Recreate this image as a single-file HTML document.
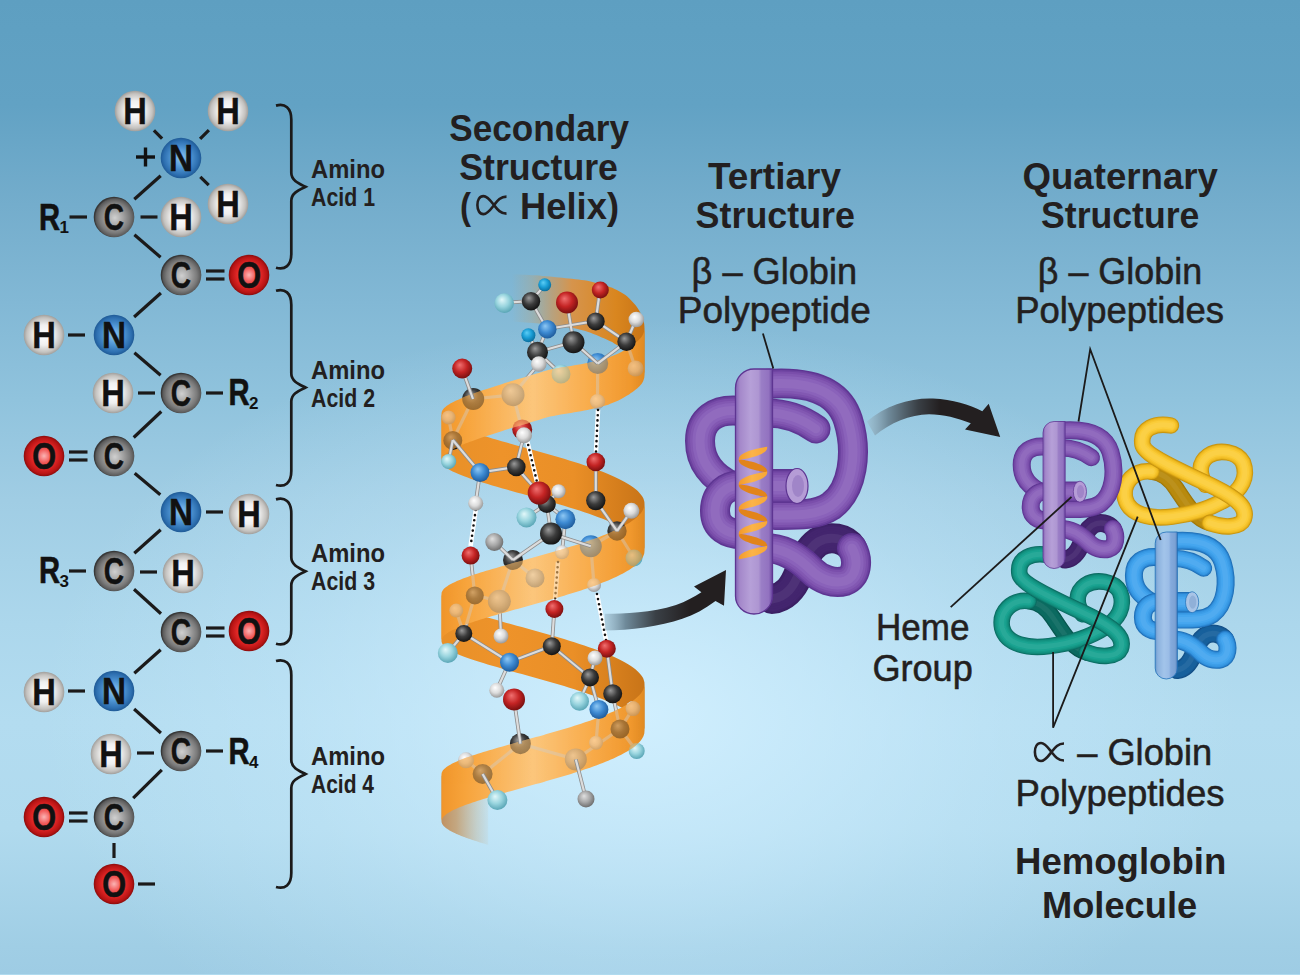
<!DOCTYPE html><html><head><meta charset="utf-8"><style>html,body{margin:0;padding:0;background:#a2cfe6;overflow:hidden}svg{display:block}</style></head><body><svg width="1300" height="975" viewBox="0 0 1300 975"><defs><linearGradient id="bg" x1="0" y1="0" x2="0" y2="975" gradientUnits="userSpaceOnUse">
<stop offset="0" stop-color="#5e9fc1"/>
<stop offset="0.03" stop-color="#5fa0c2"/>
<stop offset="0.108" stop-color="#62a2c4"/>
<stop offset="0.21" stop-color="#74adcc"/>
<stop offset="0.31" stop-color="#82b8d5"/>
<stop offset="0.41" stop-color="#90c3dd"/>
<stop offset="0.513" stop-color="#a0cde4"/>
<stop offset="0.64" stop-color="#acd7ec"/>
<stop offset="0.74" stop-color="#b3dcf0"/>
<stop offset="0.85" stop-color="#b0daee"/>
<stop offset="0.97" stop-color="#a0cee5"/>
<stop offset="1" stop-color="#9ecce4"/>
</linearGradient>
<radialGradient id="bgr" cx="640" cy="715" r="600" gradientUnits="userSpaceOnUse" gradientTransform="translate(640 715) scale(1 0.66) translate(-640 -715)">
<stop offset="0" stop-color="#d2f0ff" stop-opacity="0.95"/>
<stop offset="0.6" stop-color="#ceeeff" stop-opacity="0.3"/>
<stop offset="1" stop-color="#ceeeff" stop-opacity="0"/>
</radialGradient><radialGradient id="gC" cx="0.52" cy="0.52" r="0.5">
<stop offset="0" stop-color="#d0d0d0"/><stop offset="0.35" stop-color="#aaaaaa"/><stop offset="0.75" stop-color="#7a7a7a"/><stop offset="0.93" stop-color="#5a5a5a"/><stop offset="1" stop-color="#383838"/></radialGradient>
<radialGradient id="gH" cx="0.5" cy="0.5" r="0.5">
<stop offset="0" stop-color="#ffffff"/><stop offset="0.5" stop-color="#efefef"/><stop offset="0.85" stop-color="#c4c2bf"/><stop offset="1" stop-color="#a09e9b"/></radialGradient>
<radialGradient id="gN" cx="0.5" cy="0.5" r="0.5">
<stop offset="0" stop-color="#8fc6f0"/><stop offset="0.45" stop-color="#5298d6"/><stop offset="0.85" stop-color="#2d6fb0"/><stop offset="1" stop-color="#1f5a96"/></radialGradient>
<radialGradient id="gO" cx="0.5" cy="0.5" r="0.5">
<stop offset="0" stop-color="#fbb4b4"/><stop offset="0.3" stop-color="#f26060"/><stop offset="0.6" stop-color="#e02626"/><stop offset="0.88" stop-color="#b81414"/><stop offset="1" stop-color="#8a0c0c"/></radialGradient><radialGradient id="ball_C" cx="0.45" cy="0.42" r="0.58" fx="0.38" fy="0.32"><stop offset="0" stop-color="#9a9a9a"/><stop offset="0.55" stop-color="#3c3c3c"/><stop offset="1" stop-color="#141414"/></radialGradient><radialGradient id="ball_O" cx="0.45" cy="0.42" r="0.58" fx="0.38" fy="0.32"><stop offset="0" stop-color="#f07070"/><stop offset="0.55" stop-color="#c42424"/><stop offset="1" stop-color="#7a1010"/></radialGradient><radialGradient id="ball_N" cx="0.45" cy="0.42" r="0.58" fx="0.38" fy="0.32"><stop offset="0" stop-color="#8ec8f4"/><stop offset="0.55" stop-color="#3d8ad2"/><stop offset="1" stop-color="#1f5c9c"/></radialGradient><radialGradient id="ball_H" cx="0.45" cy="0.42" r="0.58" fx="0.38" fy="0.32"><stop offset="0" stop-color="#ffffff"/><stop offset="0.55" stop-color="#dcdcdc"/><stop offset="1" stop-color="#9a9a9a"/></radialGradient><radialGradient id="ball_cy" cx="0.45" cy="0.42" r="0.58" fx="0.38" fy="0.32"><stop offset="0" stop-color="#5ccdf5"/><stop offset="0.55" stop-color="#1a9ed6"/><stop offset="1" stop-color="#0b6f9e"/></radialGradient><radialGradient id="ball_lc" cx="0.45" cy="0.42" r="0.58" fx="0.38" fy="0.32"><stop offset="0" stop-color="#e2f8fa"/><stop offset="0.55" stop-color="#98d4de"/><stop offset="1" stop-color="#5aa6b6"/></radialGradient><radialGradient id="ball_g" cx="0.45" cy="0.42" r="0.58" fx="0.38" fy="0.32"><stop offset="0" stop-color="#e0e0e0"/><stop offset="0.55" stop-color="#a8a8a8"/><stop offset="1" stop-color="#6e6e6e"/></radialGradient><linearGradient id="ar1" x1="604" y1="0" x2="690" y2="0" gradientUnits="userSpaceOnUse">
<stop offset="0" stop-color="#9fbfd0" stop-opacity="0.6"/><stop offset="0.25" stop-color="#6f8a9a"/><stop offset="0.6" stop-color="#3a4046"/><stop offset="1" stop-color="#231f20"/></linearGradient>
<linearGradient id="ar2" x1="866" y1="0" x2="940" y2="0" gradientUnits="userSpaceOnUse">
<stop offset="0" stop-color="#9fbfd0" stop-opacity="0.6"/><stop offset="0.3" stop-color="#6f8a9a"/><stop offset="0.7" stop-color="#3a4046"/><stop offset="1" stop-color="#231f20"/></linearGradient><linearGradient id="hfront" x1="441" y1="0" x2="645" y2="0" gradientUnits="userSpaceOnUse">
<stop offset="0" stop-color="#f0952a"/><stop offset="0.12" stop-color="#f7a43c"/><stop offset="0.45" stop-color="#fcc67c"/><stop offset="0.75" stop-color="#f8aa48"/><stop offset="0.93" stop-color="#f0982e"/><stop offset="1" stop-color="#e08a22"/></linearGradient>
<linearGradient id="hback" x1="441" y1="0" x2="645" y2="0" gradientUnits="userSpaceOnUse">
<stop offset="0" stop-color="#e89028"/><stop offset="0.3" stop-color="#ee932a"/><stop offset="0.65" stop-color="#ea8f27"/><stop offset="0.88" stop-color="#d47d1c"/><stop offset="1" stop-color="#c87418"/></linearGradient>
<linearGradient id="htop" x1="512" y1="0" x2="645" y2="0" gradientUnits="userSpaceOnUse">
<stop offset="0" stop-color="#c0a070" stop-opacity="0"/><stop offset="0.15" stop-color="#c0a070" stop-opacity="0.3"/><stop offset="0.3" stop-color="#c89a62" stop-opacity="0.75"/><stop offset="0.45" stop-color="#d6944c"/><stop offset="0.78" stop-color="#d9861f"/><stop offset="1" stop-color="#c87416"/></linearGradient>
<linearGradient id="hbot" x1="441" y1="0" x2="492" y2="0" gradientUnits="userSpaceOnUse">
<stop offset="0" stop-color="#c09060"/><stop offset="0.3" stop-color="#c49c6c" stop-opacity="0.85"/><stop offset="0.7" stop-color="#c8a87c" stop-opacity="0.35"/><stop offset="1" stop-color="#c8a87c" stop-opacity="0"/></linearGradient><clipPath id="fclip"><path d="M644.5 328.4 L644.4 329.6 L644.3 330.8 L643.9 332.1 L643.5 333.3 L643 334.5 L642.3 335.7 L641.5 336.9 L640.6 338 L639.5 339.2 L638.4 340.3 L637.1 341.4 L635.7 342.6 L634.2 343.7 L632.6 344.9 L630.9 346.1 L629.1 347.4 L627.1 348.6 L625.1 349.8 L623 351.1 L620.8 352.3 L618.4 353.4 L616 354.5 L613.5 355.6 L610.9 356.6 L608.2 357.7 L605.5 358.5 L602.7 359.3 L599.8 360 L596.8 360.8 L593.8 361.5 L590.7 362.3 L587.5 363 L584.3 363.6 L581 364.2 L577.7 364.8 L574.4 365.3 L571 365.9 L567.6 366.4 L564.1 367 L560.6 367.6 L557.1 368.3 L553.6 369 L550.1 369.6 L546.5 370.5 L543 371.6 L539.5 372.7 L535.9 373.8 L532.4 374.8 L528.9 375.9 L525.4 376.9 L521.9 378 L518.4 379 L515 380 L511.6 381.1 L508.3 382.1 L505 383.1 L501.7 384.2 L498.5 385.2 L495.3 386.2 L492.3 387.2 L489.2 388.2 L486.2 389.2 L483.3 390.1 L480.5 391.1 L477.8 392 L475.1 392.9 L472.5 393.9 L470 394.8 L467.6 395.7 L465.2 396.6 L463 397.5 L460.9 398.5 L458.9 399.4 L456.9 400.2 L455.1 401.1 L453.4 401.9 L451.8 402.8 L450.3 403.6 L448.9 404.5 L447.6 405.3 L446.5 406.1 L445.4 407 L444.5 407.8 L443.7 408.6 L443 409.5 L442.5 410.3 L442.1 411.1 L441.7 411.9 L441.6 412.8 L441.5 413.6 L441.5 460.6 L441.6 459.8 L441.7 458.9 L442.1 458.1 L442.5 457.3 L443 456.5 L443.7 455.6 L444.5 454.8 L445.4 454 L446.5 453.1 L447.6 452.3 L448.9 451.5 L450.3 450.6 L451.8 449.8 L453.4 448.9 L455.1 448.1 L456.9 447.2 L458.9 446.4 L460.9 445.5 L463 444.5 L465.2 443.6 L467.6 442.7 L470 441.8 L472.5 440.9 L475.1 439.9 L477.8 439 L480.5 438.1 L483.3 437.1 L486.2 436.2 L489.2 435.2 L492.3 434.2 L495.3 433.2 L498.5 432.2 L501.7 431.2 L505 430.1 L508.3 429.1 L511.6 428.1 L515 427 L518.4 426 L521.9 425 L525.4 423.9 L528.9 422.9 L532.4 421.8 L535.9 420.8 L539.5 419.7 L543 418.6 L546.5 417.5 L550.1 416.6 L553.6 416 L557.1 415.3 L560.6 414.6 L564.1 414 L567.6 413.4 L571 412.9 L574.4 412.3 L577.7 411.8 L581 411.2 L584.3 410.6 L587.5 410 L590.7 409.3 L593.8 408.5 L596.8 407.8 L599.8 407 L602.7 406.3 L605.5 405.5 L608.2 404.7 L610.9 403.6 L613.5 402.6 L616 401.5 L618.4 400.4 L620.8 399.3 L623 398.1 L625.1 396.8 L627.1 395.6 L629.1 394.4 L630.9 393.1 L632.6 391.9 L634.2 390.7 L635.7 389.6 L637.1 388.4 L638.4 387.3 L639.5 386.2 L640.6 385 L641.5 383.9 L642.3 382.7 L643 381.5 L643.5 380.3 L643.9 379.1 L644.3 377.8 L644.4 376.6 L644.5 375.4Z"/><path d="M644.5 503.7 L644.4 505 L644.3 506.2 L643.9 507.4 L643.5 508.6 L643 509.8 L642.3 511 L641.5 512.2 L640.6 513.4 L639.5 514.6 L638.4 515.8 L637.1 517 L635.7 518.2 L634.2 519.4 L632.6 520.6 L630.9 521.8 L629.1 523 L627.1 524.1 L625.1 525.3 L623 526.5 L620.8 527.6 L618.4 528.8 L616 530 L613.5 531.1 L610.9 532.2 L608.2 533.4 L605.5 534.5 L602.7 535.6 L599.8 536.8 L596.8 537.9 L593.8 539 L590.7 540.1 L587.5 541.2 L584.3 542.3 L581 543.4 L577.7 544.4 L574.4 545.5 L571 546.6 L567.6 547.6 L564.1 548.7 L560.6 549.7 L557.1 550.8 L553.6 551.8 L550.1 552.8 L546.5 553.8 L543 554.8 L539.5 555.8 L535.9 556.8 L532.4 557.8 L528.9 558.8 L525.4 559.7 L521.9 560.7 L518.4 561.7 L515 562.6 L511.6 563.6 L508.3 564.5 L505 565.4 L501.7 566.3 L498.5 567.2 L495.3 568.2 L492.3 569.1 L489.2 569.9 L486.2 570.8 L483.3 571.7 L480.5 572.6 L477.8 573.5 L475.1 574.3 L472.5 575.2 L470 576 L467.6 576.9 L465.2 577.7 L463 578.6 L460.9 579.4 L458.9 580.2 L456.9 581.1 L455.1 581.9 L453.4 582.7 L451.8 583.5 L450.3 584.3 L448.9 585.1 L447.6 585.9 L446.5 586.7 L445.4 587.5 L444.5 588.3 L443.7 589.1 L443 589.9 L442.5 590.7 L442.1 591.5 L441.7 592.3 L441.6 593.1 L441.5 593.9 L441.5 640.9 L441.6 640.1 L441.7 639.3 L442.1 638.5 L442.5 637.7 L443 636.9 L443.7 636.1 L444.5 635.3 L445.4 634.5 L446.5 633.7 L447.6 632.9 L448.9 632.1 L450.3 631.3 L451.8 630.5 L453.4 629.7 L455.1 628.9 L456.9 628.1 L458.9 627.2 L460.9 626.4 L463 625.6 L465.2 624.7 L467.6 623.9 L470 623 L472.5 622.2 L475.1 621.3 L477.8 620.5 L480.5 619.6 L483.3 618.7 L486.2 617.8 L489.2 616.9 L492.3 616.1 L495.3 615.2 L498.5 614.2 L501.7 613.3 L505 612.4 L508.3 611.5 L511.6 610.6 L515 609.6 L518.4 608.7 L521.9 607.7 L525.4 606.7 L528.9 605.8 L532.4 604.8 L535.9 603.8 L539.5 602.8 L543 601.8 L546.5 600.8 L550.1 599.8 L553.6 598.8 L557.1 597.8 L560.6 596.7 L564.1 595.7 L567.6 594.6 L571 593.6 L574.4 592.5 L577.7 591.4 L581 590.4 L584.3 589.3 L587.5 588.2 L590.7 587.1 L593.8 586 L596.8 584.9 L599.8 583.8 L602.7 582.6 L605.5 581.5 L608.2 580.4 L610.9 579.2 L613.5 578.1 L616 577 L618.4 575.8 L620.8 574.6 L623 573.5 L625.1 572.3 L627.1 571.1 L629.1 570 L630.9 568.8 L632.6 567.6 L634.2 566.4 L635.7 565.2 L637.1 564 L638.4 562.8 L639.5 561.6 L640.6 560.4 L641.5 559.2 L642.3 558 L643 556.8 L643.5 555.6 L643.9 554.4 L644.3 553.2 L644.4 552 L644.5 550.7Z"/><path d="M644.5 684.1 L644.4 685.3 L644.3 686.5 L643.9 687.7 L643.5 688.9 L643 690.1 L642.3 691.3 L641.5 692.5 L640.6 693.7 L639.5 694.9 L638.4 696.1 L637.1 697.3 L635.7 698.5 L634.2 699.7 L632.6 700.9 L630.9 702.1 L629.1 703.3 L627.1 704.5 L625.1 705.6 L623 706.8 L620.8 708 L618.4 709.1 L616 710.3 L613.5 711.4 L610.9 712.6 L608.2 713.7 L605.5 714.8 L602.7 716 L599.8 717.1 L596.8 718.2 L593.8 719.3 L590.7 720.4 L587.5 721.5 L584.3 722.6 L581 723.7 L577.7 724.8 L574.4 725.8 L571 726.9 L567.6 728 L564.1 729 L560.6 730.1 L557.1 731.1 L553.6 732.1 L550.1 733.1 L546.5 734.1 L543 735.2 L539.5 736.2 L535.9 737.1 L532.4 738.1 L528.9 739.1 L525.4 740.1 L521.9 741 L518.4 742 L515 742.9 L511.6 743.9 L508.3 744.8 L505 745.7 L501.7 746.7 L498.5 747.6 L495.3 748.5 L492.3 749.4 L489.2 750.3 L486.2 751.2 L483.3 752 L480.5 752.9 L477.8 753.8 L475.1 754.7 L472.5 755.5 L470 756.4 L467.6 757.2 L465.2 758.1 L463 758.9 L460.9 759.7 L458.9 760.6 L456.9 761.4 L455.1 762.2 L453.4 763 L451.8 763.8 L450.3 764.7 L448.9 765.5 L447.6 766.3 L446.5 767.1 L445.4 767.9 L444.5 768.7 L443.7 769.5 L443 770.3 L442.5 771.1 L442.1 771.9 L441.7 772.7 L441.6 773.4 L441.5 774.2 L441.5 821.2 L441.6 820.4 L441.7 819.7 L442.1 818.9 L442.5 818.1 L443 817.3 L443.7 816.5 L444.5 815.7 L445.4 814.9 L446.5 814.1 L447.6 813.3 L448.9 812.5 L450.3 811.7 L451.8 810.8 L453.4 810 L455.1 809.2 L456.9 808.4 L458.9 807.6 L460.9 806.7 L463 805.9 L465.2 805.1 L467.6 804.2 L470 803.4 L472.5 802.5 L475.1 801.7 L477.8 800.8 L480.5 799.9 L483.3 799 L486.2 798.2 L489.2 797.3 L492.3 796.4 L495.3 795.5 L498.5 794.6 L501.7 793.7 L505 792.7 L508.3 791.8 L511.6 790.9 L515 789.9 L518.4 789 L521.9 788 L525.4 787.1 L528.9 786.1 L532.4 785.1 L535.9 784.1 L539.5 783.2 L543 782.2 L546.5 781.1 L550.1 780.1 L553.6 779.1 L557.1 778.1 L560.6 777.1 L564.1 776 L567.6 775 L571 773.9 L574.4 772.8 L577.7 771.8 L581 770.7 L584.3 769.6 L587.5 768.5 L590.7 767.4 L593.8 766.3 L596.8 765.2 L599.8 764.1 L602.7 763 L605.5 761.8 L608.2 760.7 L610.9 759.6 L613.5 758.4 L616 757.3 L618.4 756.1 L620.8 755 L623 753.8 L625.1 752.6 L627.1 751.5 L629.1 750.3 L630.9 749.1 L632.6 747.9 L634.2 746.7 L635.7 745.5 L637.1 744.3 L638.4 743.1 L639.5 741.9 L640.6 740.7 L641.5 739.5 L642.3 738.3 L643 737.1 L643.5 735.9 L643.9 734.7 L644.3 733.5 L644.4 732.3 L644.5 731.1Z"/></clipPath><linearGradient id="cylP" x1="0" y1="0" x2="1" y2="0"><stop offset="0" stop-color="#8262b4"/><stop offset="0.12" stop-color="#a488ca"/><stop offset="0.4" stop-color="#b6a0d8"/><stop offset="0.62" stop-color="#ae96d2"/><stop offset="0.7" stop-color="#9a7ec6"/><stop offset="0.9" stop-color="#9272c0"/><stop offset="1" stop-color="#6a46a0"/></linearGradient><linearGradient id="cylB" x1="0" y1="0" x2="1" y2="0"><stop offset="0" stop-color="#6a98cc"/><stop offset="0.12" stop-color="#8cb2de"/><stop offset="0.4" stop-color="#a2c4ea"/><stop offset="0.62" stop-color="#9abce6"/><stop offset="0.7" stop-color="#84aadc"/><stop offset="0.9" stop-color="#7ca2d4"/><stop offset="1" stop-color="#4a7cb8"/></linearGradient><linearGradient id="mhg" x1="739" y1="0" x2="768" y2="0" gradientUnits="userSpaceOnUse"><stop offset="0" stop-color="#f39a2c"/><stop offset="0.45" stop-color="#fbb449"/><stop offset="1" stop-color="#f7a535"/></linearGradient></defs><rect width="1300" height="975" fill="url(#bg)"/><rect width="1300" height="975" fill="url(#bgr)"/><g stroke="#1b1a1a" stroke-width="3.2" stroke-linecap="butt"><line x1="153.9" y1="130.3" x2="162.1" y2="138.7"/><line x1="208.9" y1="130.1" x2="200.1" y2="138.9"/><line x1="200.3" y1="176.9" x2="208.7" y2="185.1"/><line x1="160.7" y1="175.8" x2="134.3" y2="199.2"/><line x1="134.4" y1="234.7" x2="160.6" y2="257.3"/><line x1="160.9" y1="293" x2="134.1" y2="317"/><line x1="134.4" y1="352.7" x2="160.6" y2="375.3"/><line x1="161.3" y1="411.5" x2="133.7" y2="437.5"/><line x1="134.7" y1="473.3" x2="160.3" y2="494.7"/><line x1="160.7" y1="529.8" x2="134.3" y2="553.2"/><line x1="134" y1="589.2" x2="161" y2="613.8"/><line x1="160.7" y1="649.8" x2="134.3" y2="673.2"/><line x1="134.1" y1="709" x2="160.9" y2="733"/><line x1="161.8" y1="769.9" x2="133.2" y2="798.1"/><line x1="69.5" y1="217" x2="87" y2="217"/><line x1="140.5" y1="217" x2="157.5" y2="217"/><line x1="68" y1="335" x2="85" y2="335"/><line x1="138" y1="393" x2="155" y2="393"/><line x1="206" y1="393" x2="223" y2="393"/><line x1="206" y1="512" x2="223" y2="512"/><line x1="69" y1="571" x2="86" y2="571"/><line x1="140" y1="572" x2="157" y2="572"/><line x1="68" y1="691" x2="85" y2="691"/><line x1="137" y1="753" x2="154" y2="753"/><line x1="206" y1="751" x2="223" y2="751"/><line x1="138" y1="884" x2="155" y2="884"/><line x1="206" y1="271" x2="224.5" y2="271"/><line x1="206" y1="279" x2="224.5" y2="279"/><line x1="69" y1="452" x2="87.5" y2="452"/><line x1="69" y1="460" x2="87.5" y2="460"/><line x1="206" y1="628" x2="224.5" y2="628"/><line x1="206" y1="636" x2="224.5" y2="636"/><line x1="69" y1="813" x2="87.5" y2="813"/><line x1="69" y1="821" x2="87.5" y2="821"/><line x1="114" y1="843" x2="114" y2="858"/></g><circle cx="135" cy="111" r="20.3" fill="url(#gH)"/><circle cx="228" cy="111" r="20.3" fill="url(#gH)"/><circle cx="181" cy="158" r="20.3" fill="url(#gN)"/><circle cx="228" cy="204" r="20.3" fill="url(#gH)"/><circle cx="114" cy="217" r="20.3" fill="url(#gC)"/><circle cx="181" cy="217" r="20.3" fill="url(#gH)"/><circle cx="181" cy="275" r="20.3" fill="url(#gC)"/><circle cx="249" cy="275" r="20.3" fill="url(#gO)"/><circle cx="44" cy="335" r="20.3" fill="url(#gH)"/><circle cx="114" cy="335" r="20.3" fill="url(#gN)"/><circle cx="113" cy="393" r="20.3" fill="url(#gH)"/><circle cx="181" cy="393" r="20.3" fill="url(#gC)"/><circle cx="44" cy="456" r="20.3" fill="url(#gO)"/><circle cx="114" cy="456" r="20.3" fill="url(#gC)"/><circle cx="181" cy="512" r="20.3" fill="url(#gN)"/><circle cx="249" cy="514" r="20.3" fill="url(#gH)"/><circle cx="114" cy="571" r="20.3" fill="url(#gC)"/><circle cx="183" cy="573" r="20.3" fill="url(#gH)"/><circle cx="181" cy="632" r="20.3" fill="url(#gC)"/><circle cx="249" cy="631" r="20.3" fill="url(#gO)"/><circle cx="44" cy="692" r="20.3" fill="url(#gH)"/><circle cx="114" cy="691" r="20.3" fill="url(#gN)"/><circle cx="111" cy="754" r="20.3" fill="url(#gH)"/><circle cx="181" cy="751" r="20.3" fill="url(#gC)"/><circle cx="44" cy="817" r="20.3" fill="url(#gO)"/><circle cx="114" cy="817" r="20.3" fill="url(#gC)"/><circle cx="114" cy="884" r="20.3" fill="url(#gO)"/><g font-family='"Liberation Sans", sans-serif' font-weight="bold" font-size="37" fill="#111" stroke="#111" stroke-width="0.45" text-anchor="middle"><text transform="translate(135 123.6) scale(0.88 1)">H</text><text transform="translate(228 123.6) scale(0.88 1)">H</text><text transform="translate(181 170.6) scale(0.9 1)">N</text><text transform="translate(228 216.6) scale(0.88 1)">H</text><text transform="translate(114 229.6) scale(0.76 1)">C</text><text transform="translate(181 229.6) scale(0.88 1)">H</text><text transform="translate(181 287.6) scale(0.76 1)">C</text><text transform="translate(249 287.6) scale(0.84 1)">O</text><text transform="translate(44 347.6) scale(0.88 1)">H</text><text transform="translate(114 347.6) scale(0.9 1)">N</text><text transform="translate(113 405.6) scale(0.88 1)">H</text><text transform="translate(181 405.6) scale(0.76 1)">C</text><text transform="translate(44 468.6) scale(0.84 1)">O</text><text transform="translate(114 468.6) scale(0.76 1)">C</text><text transform="translate(181 524.6) scale(0.9 1)">N</text><text transform="translate(249 526.6) scale(0.88 1)">H</text><text transform="translate(114 583.6) scale(0.76 1)">C</text><text transform="translate(183 585.6) scale(0.88 1)">H</text><text transform="translate(181 644.6) scale(0.76 1)">C</text><text transform="translate(249 643.6) scale(0.84 1)">O</text><text transform="translate(44 704.6) scale(0.88 1)">H</text><text transform="translate(114 703.6) scale(0.9 1)">N</text><text transform="translate(111 766.6) scale(0.88 1)">H</text><text transform="translate(181 763.6) scale(0.76 1)">C</text><text transform="translate(44 829.6) scale(0.84 1)">O</text><text transform="translate(114 829.6) scale(0.76 1)">C</text><text transform="translate(114 896.6) scale(0.84 1)">O</text></g><text x="39" y="229.7" font-family='"Liberation Sans", sans-serif' font-weight="bold" font-size="36.5" fill="#111" stroke="#111" stroke-width="0.6" transform="translate(39 0) scale(0.8 1) translate(-39 0)">R</text><text x="59.5" y="233.2" font-family='"Liberation Sans", sans-serif' font-weight="bold" font-size="17" fill="#111">1</text><text x="228.5" y="405.5" font-family='"Liberation Sans", sans-serif' font-weight="bold" font-size="36.5" fill="#111" stroke="#111" stroke-width="0.6" transform="translate(228.5 0) scale(0.8 1) translate(-228.5 0)">R</text><text x="249" y="409" font-family='"Liberation Sans", sans-serif' font-weight="bold" font-size="17" fill="#111">2</text><text x="39" y="583.5" font-family='"Liberation Sans", sans-serif' font-weight="bold" font-size="36.5" fill="#111" stroke="#111" stroke-width="0.6" transform="translate(39 0) scale(0.8 1) translate(-39 0)">R</text><text x="59.5" y="587" font-family='"Liberation Sans", sans-serif' font-weight="bold" font-size="17" fill="#111">3</text><text x="228.5" y="764" font-family='"Liberation Sans", sans-serif' font-weight="bold" font-size="36.5" fill="#111" stroke="#111" stroke-width="0.6" transform="translate(228.5 0) scale(0.8 1) translate(-228.5 0)">R</text><text x="249" y="767.5" font-family='"Liberation Sans", sans-serif' font-weight="bold" font-size="17" fill="#111">4</text><g stroke="#111" stroke-width="3.4"><line x1="136" y1="157" x2="155" y2="157"/><line x1="145.5" y1="147.5" x2="145.5" y2="166.5"/></g><g fill="none" stroke="#1b1a1a" stroke-width="2.7"><path d="M276 105.6 C285 103.1 291.3 107.6 291.3 119.6 L291.3 172.8 C291.3 180.8 299.5 183.8 305.5 186.8 C299.5 189.8 291.3 192.8 291.3 200.8 L291.3 253.7 C291.3 265.7 285 270.2 276 267.7"/><path d="M276 290.8 C285 288.3 291.3 292.8 291.3 304.8 L291.3 373.5 C291.3 381.5 299.5 384.5 305.5 387.5 C299.5 390.5 291.3 393.5 291.3 401.5 L291.3 471 C291.3 483 285 487.5 276 485"/><path d="M276 499.4 C285 496.9 291.3 501.4 291.3 513.4 L291.3 557.3 C291.3 565.3 299.5 568.3 305.5 571.3 C299.5 574.3 291.3 577.3 291.3 585.3 L291.3 629.7 C291.3 641.7 285 646.2 276 643.7"/><path d="M276 661 C285 658.5 291.3 663 291.3 675 L291.3 760 C291.3 768 299.5 771 305.5 774 C299.5 777 291.3 780 291.3 788 L291.3 873 C291.3 885 285 889.5 276 887"/></g><path d="M503.5 273.8 L506.6 274 L509.7 274.1 L512.9 274.2 L516.1 274.4 L519.3 274.5 L522.5 274.7 L525.8 274.8 L529.1 275 L532.4 275.2 L535.7 275.3 L539.1 275.6 L542.4 275.9 L545.7 276.2 L549.1 276.5 L552.4 276.8 L555.7 277.2 L559 277.5 L562.3 277.8 L565.6 278.2 L568.8 278.5 L572 278.8 L575.2 279.2 L578.3 279.6 L581.4 279.9 L584.5 280.3 L587.5 280.8 L590.5 281.6 L593.4 282.3 L596.3 283.1 L599.1 283.8 L601.8 284.6 L604.5 285.3 L607.1 286.1 L609.7 286.9 L612.2 287.7 L614.6 288.9 L616.9 290.1 L619.1 291.3 L621.3 292.5 L623.4 293.8 L625.4 295 L627.3 296.6 L629.1 298.3 L630.8 300 L632.4 301.7 L634 303.4 L635.4 305.1 L636.7 306.8 L637.9 308.6 L639.1 310.4 L640.1 312.2 L641 314 L641.8 315.8 L642.5 317.6 L643.1 319.4 L643.6 321.2 L644 323 L644.3 324.8 L644.4 326.6 L644.5 328.4 L644.5 375.4 L644.4 374.3 L644.3 373.2 L644 372.1 L643.6 371 L643.1 369.9 L642.5 368.8 L641.8 367.7 L641 366.6 L640.1 365.6 L639.1 364.5 L637.9 363.4 L636.7 361.8 L635.4 360.1 L634 358.4 L632.4 356.7 L630.8 355 L629.1 353.3 L627.3 351.6 L625.4 350 L623.4 348.8 L621.3 347.5 L619.1 346.3 L616.9 345.1 L614.6 343.7 L612.2 342.1 L609.7 340.9 L607.1 339.7 L604.5 338.6 L601.8 337.4 L599.1 336.2 L596.3 335.1 L593.4 334 L590.5 332.8 L587.5 331.7 L584.5 330.8 L581.4 330 L578.3 329.2 L575.2 328.5 L572 327.8 L568.8 327.4 L565.6 326.9 L562.3 326.5 L559 326.1 L555.7 325.7 L552.4 325.2 L549.1 324.8 L545.7 324.4 L542.4 324 L539.1 323.6 L535.7 323.3 L532.4 323 L529.1 322.7 L525.8 322.5 L522.5 322.2 L519.3 322 L516.1 321.7 L512.9 321.5 L509.7 321.3 L506.6 321 L503.5 320.8Z" fill="url(#htop)"/><path d="M441.5 413.6 L441.6 414.8 L442.1 416 L442.7 417.2 L443.7 418.3 L445 419.5 L446.5 420.7 L448.2 422 L450.3 423.2 L452.6 424.4 L455.1 425.6 L457.9 426.8 L460.9 428.1 L464.1 429.3 L467.6 430.6 L471.2 431.9 L475.1 433.2 L479.1 434.5 L483.3 435.8 L487.7 437.1 L492.2 438.4 L496.9 439.8 L501.7 441.2 L506.6 442.5 L511.6 443.9 L516.7 445.4 L521.9 446.8 L527.1 448.2 L532.4 449.7 L537.7 451.2 L543 452.7 L548.3 454.2 L553.6 455.7 L558.9 457.2 L564.1 458.8 L569.3 460.4 L574.4 462 L579.4 463.6 L584.3 465.2 L589.1 466.8 L593.7 468.5 L598.3 470.2 L602.7 471.8 L606.9 473.5 L610.9 475.2 L614.8 477 L618.4 478.7 L621.9 480.4 L625.1 482.2 L628.1 483.9 L630.9 485.7 L633.4 487.5 L635.7 489.3 L637.8 491.1 L639.5 492.9 L641 494.7 L642.3 496.5 L643.3 498.3 L643.9 500.1 L644.4 501.9 L644.5 503.7 L644.5 550.7 L644.4 548.9 L643.9 547.1 L643.3 545.3 L642.3 543.5 L641 541.7 L639.5 539.9 L637.8 538.1 L635.7 536.3 L633.4 534.5 L630.9 532.7 L628.1 530.9 L625.1 529.2 L621.9 527.4 L618.4 525.7 L614.8 524 L610.9 522.2 L606.9 520.5 L602.7 518.8 L598.3 517.2 L593.7 515.5 L589.1 513.8 L584.3 512.2 L579.4 510.6 L574.4 509 L569.3 507.4 L564.1 505.8 L558.9 504.2 L553.6 502.7 L548.3 501.2 L543 499.7 L537.7 498.2 L532.4 496.7 L527.1 495.2 L521.9 493.8 L516.7 492.4 L511.6 490.9 L506.6 489.5 L501.7 488.2 L496.9 486.8 L492.2 485.4 L487.7 484.1 L483.3 482.8 L479.1 481.5 L475.1 480.2 L471.2 478.9 L467.6 477.6 L464.1 476.3 L460.9 475.1 L457.9 473.8 L455.1 472.6 L452.6 471.4 L450.3 470.2 L448.2 469 L446.5 467.7 L445 466.5 L443.7 465.3 L442.7 464.2 L442.1 463 L441.6 461.8 L441.5 460.6Z" fill="url(#hback)"/><path d="M441.5 593.9 L441.6 595.1 L442.1 596.3 L442.7 597.5 L443.7 598.7 L445 599.9 L446.5 601.1 L448.2 602.3 L450.3 603.5 L452.6 604.7 L455.1 605.9 L457.9 607.2 L460.9 608.4 L464.1 609.7 L467.6 610.9 L471.2 612.2 L475.1 613.5 L479.1 614.8 L483.3 616.1 L487.7 617.4 L492.2 618.8 L496.9 620.1 L501.7 621.5 L506.6 622.9 L511.6 624.3 L516.7 625.7 L521.9 627.1 L527.1 628.6 L532.4 630 L537.7 631.5 L543 633 L548.3 634.5 L553.6 636 L558.9 637.6 L564.1 639.1 L569.3 640.7 L574.4 642.3 L579.4 643.9 L584.3 645.5 L589.1 647.2 L593.7 648.8 L598.3 650.5 L602.7 652.2 L606.9 653.9 L610.9 655.6 L614.8 657.3 L618.4 659 L621.9 660.8 L625.1 662.5 L628.1 664.3 L630.9 666 L633.4 667.8 L635.7 669.6 L637.8 671.4 L639.5 673.2 L641 675 L642.3 676.8 L643.3 678.6 L643.9 680.4 L644.4 682.3 L644.5 684.1 L644.5 731.1 L644.4 729.3 L643.9 727.4 L643.3 725.6 L642.3 723.8 L641 722 L639.5 720.2 L637.8 718.4 L635.7 716.6 L633.4 714.8 L630.9 713 L628.1 711.3 L625.1 709.5 L621.9 707.8 L618.4 706 L614.8 704.3 L610.9 702.6 L606.9 700.9 L602.7 699.2 L598.3 697.5 L593.7 695.8 L589.1 694.2 L584.3 692.5 L579.4 690.9 L574.4 689.3 L569.3 687.7 L564.1 686.1 L558.9 684.6 L553.6 683 L548.3 681.5 L543 680 L537.7 678.5 L532.4 677 L527.1 675.6 L521.9 674.1 L516.7 672.7 L511.6 671.3 L506.6 669.9 L501.7 668.5 L496.9 667.1 L492.2 665.8 L487.7 664.4 L483.3 663.1 L479.1 661.8 L475.1 660.5 L471.2 659.2 L467.6 657.9 L464.1 656.7 L460.9 655.4 L457.9 654.2 L455.1 652.9 L452.6 651.7 L450.3 650.5 L448.2 649.3 L446.5 648.1 L445 646.9 L443.7 645.7 L442.7 644.5 L442.1 643.3 L441.6 642.1 L441.5 640.9Z" fill="url(#hback)"/><path d="M441.5 774.2 L441.5 774.6 L441.6 775 L441.6 775.4 L441.7 775.8 L441.9 776.1 L442 776.5 L442.2 776.9 L442.4 777.3 L442.6 777.6 L442.9 778 L443.2 778.4 L443.5 778.8 L443.9 779.2 L444.3 779.5 L444.7 779.9 L445.1 780.3 L445.5 780.7 L446 781.1 L446.5 781.5 L447.1 781.8 L447.7 782.2 L448.2 782.6 L448.9 783 L449.5 783.4 L450.2 783.8 L450.9 784.2 L451.6 784.5 L452.4 784.9 L453.1 785.3 L453.9 785.7 L454.7 786.1 L455.6 786.5 L456.5 786.9 L457.4 787.3 L458.3 787.7 L459.2 788.1 L460.2 788.5 L461.2 788.9 L462.2 789.3 L463.2 789.7 L464.3 790.1 L465.4 790.5 L466.5 790.9 L467.6 791.3 L468.7 791.7 L469.9 792.1 L471.1 792.5 L472.3 792.9 L473.5 793.3 L474.8 793.7 L476 794.1 L477.3 794.5 L478.6 795 L479.9 795.4 L481.2 795.8 L482.6 796.2 L484 796.6 L485.3 797 L486.7 797.5 L488.2 797.9 L488.2 844.9 L486.7 844.5 L485.3 844 L484 843.6 L482.6 843.2 L481.2 842.8 L479.9 842.4 L478.6 842 L477.3 841.5 L476 841.1 L474.8 840.7 L473.5 840.3 L472.3 839.9 L471.1 839.5 L469.9 839.1 L468.7 838.7 L467.6 838.3 L466.5 837.9 L465.4 837.5 L464.3 837.1 L463.2 836.7 L462.2 836.3 L461.2 835.9 L460.2 835.5 L459.2 835.1 L458.3 834.7 L457.4 834.3 L456.5 833.9 L455.6 833.5 L454.7 833.1 L453.9 832.7 L453.1 832.3 L452.4 831.9 L451.6 831.5 L450.9 831.2 L450.2 830.8 L449.5 830.4 L448.9 830 L448.2 829.6 L447.7 829.2 L447.1 828.8 L446.5 828.5 L446 828.1 L445.5 827.7 L445.1 827.3 L444.7 826.9 L444.3 826.5 L443.9 826.2 L443.5 825.8 L443.2 825.4 L442.9 825 L442.6 824.6 L442.4 824.3 L442.2 823.9 L442 823.5 L441.9 823.1 L441.7 822.8 L441.6 822.4 L441.6 822 L441.5 821.6 L441.5 821.2Z" fill="url(#hbot)"/><g stroke="#8c8c8c" stroke-width="3.8"><line x1="626.5" y1="341.7" x2="635.6" y2="368.5"/><line x1="597.7" y1="363.5" x2="597.5" y2="401.5"/><line x1="538.8" y1="364" x2="513" y2="394.7"/><line x1="537.5" y1="352" x2="561" y2="374"/><line x1="473" y1="399" x2="513" y2="394.7"/><line x1="513" y1="394.7" x2="522" y2="429"/><line x1="473" y1="399" x2="452.8" y2="440"/><line x1="448.6" y1="417.5" x2="452.8" y2="440"/><line x1="565.4" y1="519" x2="562" y2="552"/><line x1="617" y1="531" x2="590.8" y2="546.3"/><line x1="617" y1="531" x2="634" y2="558"/><line x1="513" y1="560" x2="499.4" y2="601"/><line x1="513" y1="560" x2="535" y2="578"/><line x1="474.8" y1="595.4" x2="499.4" y2="601"/><line x1="474.8" y1="595.4" x2="463.8" y2="633.5"/><line x1="456" y1="610.6" x2="463.8" y2="633.5"/><line x1="499.4" y1="601" x2="501" y2="636"/><line x1="590.8" y1="546" x2="594" y2="585"/><line x1="470.6" y1="555.6" x2="474.8" y2="595.4"/><line x1="520.4" y1="743.7" x2="575.8" y2="759.4"/><line x1="520.4" y1="743.7" x2="482.6" y2="774"/><line x1="482.6" y1="774" x2="466" y2="760"/><line x1="575.8" y1="759.4" x2="620" y2="729"/><line x1="620" y1="729" x2="636.7" y2="751"/><line x1="620" y1="729" x2="633" y2="708.6"/><line x1="598.9" y1="709.5" x2="596" y2="742.8"/><line x1="612.7" y1="693.8" x2="620" y2="729"/></g><g stroke="#dcdcdc" stroke-width="2.2"><line x1="626.5" y1="341.7" x2="635.6" y2="368.5"/><line x1="597.7" y1="363.5" x2="597.5" y2="401.5"/><line x1="538.8" y1="364" x2="513" y2="394.7"/><line x1="537.5" y1="352" x2="561" y2="374"/><line x1="473" y1="399" x2="513" y2="394.7"/><line x1="513" y1="394.7" x2="522" y2="429"/><line x1="473" y1="399" x2="452.8" y2="440"/><line x1="448.6" y1="417.5" x2="452.8" y2="440"/><line x1="565.4" y1="519" x2="562" y2="552"/><line x1="617" y1="531" x2="590.8" y2="546.3"/><line x1="617" y1="531" x2="634" y2="558"/><line x1="513" y1="560" x2="499.4" y2="601"/><line x1="513" y1="560" x2="535" y2="578"/><line x1="474.8" y1="595.4" x2="499.4" y2="601"/><line x1="474.8" y1="595.4" x2="463.8" y2="633.5"/><line x1="456" y1="610.6" x2="463.8" y2="633.5"/><line x1="499.4" y1="601" x2="501" y2="636"/><line x1="590.8" y1="546" x2="594" y2="585"/><line x1="470.6" y1="555.6" x2="474.8" y2="595.4"/><line x1="520.4" y1="743.7" x2="575.8" y2="759.4"/><line x1="520.4" y1="743.7" x2="482.6" y2="774"/><line x1="482.6" y1="774" x2="466" y2="760"/><line x1="575.8" y1="759.4" x2="620" y2="729"/><line x1="620" y1="729" x2="636.7" y2="751"/><line x1="620" y1="729" x2="633" y2="708.6"/><line x1="598.9" y1="709.5" x2="596" y2="742.8"/><line x1="612.7" y1="693.8" x2="620" y2="729"/></g><line x1="558" y1="562" x2="555" y2="600" stroke="#fff" stroke-width="4.5"/><line x1="558" y1="562" x2="555" y2="600" stroke="#111" stroke-width="2.6" stroke-dasharray="0 5.2" stroke-linecap="round"/><circle cx="597.7" cy="363.5" r="10.5" fill="url(#ball_N)"/><circle cx="561" cy="374" r="9.5" fill="url(#ball_lc)"/><circle cx="635.6" cy="368.5" r="8" fill="url(#ball_H)"/><circle cx="597.5" cy="401.5" r="7.6" fill="url(#ball_H)"/><circle cx="473.2" cy="399" r="11" fill="url(#ball_C)"/><circle cx="513" cy="394.7" r="11.5" fill="url(#ball_g)"/><circle cx="448.6" cy="417.5" r="7" fill="url(#ball_H)"/><circle cx="452.8" cy="440.4" r="9.5" fill="url(#ball_C)"/><circle cx="522.2" cy="429.4" r="10" fill="url(#ball_O)"/><circle cx="617" cy="531" r="9.7" fill="url(#ball_C)"/><circle cx="513" cy="560" r="10" fill="url(#ball_C)"/><circle cx="590.8" cy="546.3" r="11" fill="url(#ball_N)"/><circle cx="562" cy="552.2" r="7" fill="url(#ball_H)"/><circle cx="634" cy="558" r="8.5" fill="url(#ball_lc)"/><circle cx="535" cy="578" r="9.5" fill="url(#ball_g)"/><circle cx="474.8" cy="595.4" r="9" fill="url(#ball_C)"/><circle cx="499.4" cy="601.3" r="11.5" fill="url(#ball_g)"/><circle cx="456.2" cy="610.6" r="7" fill="url(#ball_H)"/><circle cx="594" cy="585" r="7" fill="url(#ball_H)"/><circle cx="633" cy="708.6" r="7.5" fill="url(#ball_H)"/><circle cx="520.4" cy="743.7" r="10.5" fill="url(#ball_C)"/><circle cx="620" cy="729" r="9.5" fill="url(#ball_C)"/><circle cx="596" cy="742.8" r="7" fill="url(#ball_H)"/><circle cx="466" cy="760.3" r="8" fill="url(#ball_H)"/><circle cx="482.6" cy="774" r="10" fill="url(#ball_C)"/><circle cx="575.8" cy="759.4" r="11" fill="url(#ball_g)"/><circle cx="636.7" cy="751" r="8" fill="url(#ball_lc)"/><path d="M644.5 328.4 L644.4 329.6 L644.3 330.8 L643.9 332.1 L643.5 333.3 L643 334.5 L642.3 335.7 L641.5 336.9 L640.6 338 L639.5 339.2 L638.4 340.3 L637.1 341.4 L635.7 342.6 L634.2 343.7 L632.6 344.9 L630.9 346.1 L629.1 347.4 L627.1 348.6 L625.1 349.8 L623 351.1 L620.8 352.3 L618.4 353.4 L616 354.5 L613.5 355.6 L610.9 356.6 L608.2 357.7 L605.5 358.5 L602.7 359.3 L599.8 360 L596.8 360.8 L593.8 361.5 L590.7 362.3 L587.5 363 L584.3 363.6 L581 364.2 L577.7 364.8 L574.4 365.3 L571 365.9 L567.6 366.4 L564.1 367 L560.6 367.6 L557.1 368.3 L553.6 369 L550.1 369.6 L546.5 370.5 L543 371.6 L539.5 372.7 L535.9 373.8 L532.4 374.8 L528.9 375.9 L525.4 376.9 L521.9 378 L518.4 379 L515 380 L511.6 381.1 L508.3 382.1 L505 383.1 L501.7 384.2 L498.5 385.2 L495.3 386.2 L492.3 387.2 L489.2 388.2 L486.2 389.2 L483.3 390.1 L480.5 391.1 L477.8 392 L475.1 392.9 L472.5 393.9 L470 394.8 L467.6 395.7 L465.2 396.6 L463 397.5 L460.9 398.5 L458.9 399.4 L456.9 400.2 L455.1 401.1 L453.4 401.9 L451.8 402.8 L450.3 403.6 L448.9 404.5 L447.6 405.3 L446.5 406.1 L445.4 407 L444.5 407.8 L443.7 408.6 L443 409.5 L442.5 410.3 L442.1 411.1 L441.7 411.9 L441.6 412.8 L441.5 413.6 L441.5 460.6 L441.6 459.8 L441.7 458.9 L442.1 458.1 L442.5 457.3 L443 456.5 L443.7 455.6 L444.5 454.8 L445.4 454 L446.5 453.1 L447.6 452.3 L448.9 451.5 L450.3 450.6 L451.8 449.8 L453.4 448.9 L455.1 448.1 L456.9 447.2 L458.9 446.4 L460.9 445.5 L463 444.5 L465.2 443.6 L467.6 442.7 L470 441.8 L472.5 440.9 L475.1 439.9 L477.8 439 L480.5 438.1 L483.3 437.1 L486.2 436.2 L489.2 435.2 L492.3 434.2 L495.3 433.2 L498.5 432.2 L501.7 431.2 L505 430.1 L508.3 429.1 L511.6 428.1 L515 427 L518.4 426 L521.9 425 L525.4 423.9 L528.9 422.9 L532.4 421.8 L535.9 420.8 L539.5 419.7 L543 418.6 L546.5 417.5 L550.1 416.6 L553.6 416 L557.1 415.3 L560.6 414.6 L564.1 414 L567.6 413.4 L571 412.9 L574.4 412.3 L577.7 411.8 L581 411.2 L584.3 410.6 L587.5 410 L590.7 409.3 L593.8 408.5 L596.8 407.8 L599.8 407 L602.7 406.3 L605.5 405.5 L608.2 404.7 L610.9 403.6 L613.5 402.6 L616 401.5 L618.4 400.4 L620.8 399.3 L623 398.1 L625.1 396.8 L627.1 395.6 L629.1 394.4 L630.9 393.1 L632.6 391.9 L634.2 390.7 L635.7 389.6 L637.1 388.4 L638.4 387.3 L639.5 386.2 L640.6 385 L641.5 383.9 L642.3 382.7 L643 381.5 L643.5 380.3 L643.9 379.1 L644.3 377.8 L644.4 376.6 L644.5 375.4Z" fill="url(#hfront)"/><path d="M644.5 503.7 L644.4 505 L644.3 506.2 L643.9 507.4 L643.5 508.6 L643 509.8 L642.3 511 L641.5 512.2 L640.6 513.4 L639.5 514.6 L638.4 515.8 L637.1 517 L635.7 518.2 L634.2 519.4 L632.6 520.6 L630.9 521.8 L629.1 523 L627.1 524.1 L625.1 525.3 L623 526.5 L620.8 527.6 L618.4 528.8 L616 530 L613.5 531.1 L610.9 532.2 L608.2 533.4 L605.5 534.5 L602.7 535.6 L599.8 536.8 L596.8 537.9 L593.8 539 L590.7 540.1 L587.5 541.2 L584.3 542.3 L581 543.4 L577.7 544.4 L574.4 545.5 L571 546.6 L567.6 547.6 L564.1 548.7 L560.6 549.7 L557.1 550.8 L553.6 551.8 L550.1 552.8 L546.5 553.8 L543 554.8 L539.5 555.8 L535.9 556.8 L532.4 557.8 L528.9 558.8 L525.4 559.7 L521.9 560.7 L518.4 561.7 L515 562.6 L511.6 563.6 L508.3 564.5 L505 565.4 L501.7 566.3 L498.5 567.2 L495.3 568.2 L492.3 569.1 L489.2 569.9 L486.2 570.8 L483.3 571.7 L480.5 572.6 L477.8 573.5 L475.1 574.3 L472.5 575.2 L470 576 L467.6 576.9 L465.2 577.7 L463 578.6 L460.9 579.4 L458.9 580.2 L456.9 581.1 L455.1 581.9 L453.4 582.7 L451.8 583.5 L450.3 584.3 L448.9 585.1 L447.6 585.9 L446.5 586.7 L445.4 587.5 L444.5 588.3 L443.7 589.1 L443 589.9 L442.5 590.7 L442.1 591.5 L441.7 592.3 L441.6 593.1 L441.5 593.9 L441.5 640.9 L441.6 640.1 L441.7 639.3 L442.1 638.5 L442.5 637.7 L443 636.9 L443.7 636.1 L444.5 635.3 L445.4 634.5 L446.5 633.7 L447.6 632.9 L448.9 632.1 L450.3 631.3 L451.8 630.5 L453.4 629.7 L455.1 628.9 L456.9 628.1 L458.9 627.2 L460.9 626.4 L463 625.6 L465.2 624.7 L467.6 623.9 L470 623 L472.5 622.2 L475.1 621.3 L477.8 620.5 L480.5 619.6 L483.3 618.7 L486.2 617.8 L489.2 616.9 L492.3 616.1 L495.3 615.2 L498.5 614.2 L501.7 613.3 L505 612.4 L508.3 611.5 L511.6 610.6 L515 609.6 L518.4 608.7 L521.9 607.7 L525.4 606.7 L528.9 605.8 L532.4 604.8 L535.9 603.8 L539.5 602.8 L543 601.8 L546.5 600.8 L550.1 599.8 L553.6 598.8 L557.1 597.8 L560.6 596.7 L564.1 595.7 L567.6 594.6 L571 593.6 L574.4 592.5 L577.7 591.4 L581 590.4 L584.3 589.3 L587.5 588.2 L590.7 587.1 L593.8 586 L596.8 584.9 L599.8 583.8 L602.7 582.6 L605.5 581.5 L608.2 580.4 L610.9 579.2 L613.5 578.1 L616 577 L618.4 575.8 L620.8 574.6 L623 573.5 L625.1 572.3 L627.1 571.1 L629.1 570 L630.9 568.8 L632.6 567.6 L634.2 566.4 L635.7 565.2 L637.1 564 L638.4 562.8 L639.5 561.6 L640.6 560.4 L641.5 559.2 L642.3 558 L643 556.8 L643.5 555.6 L643.9 554.4 L644.3 553.2 L644.4 552 L644.5 550.7Z" fill="url(#hfront)"/><path d="M644.5 684.1 L644.4 685.3 L644.3 686.5 L643.9 687.7 L643.5 688.9 L643 690.1 L642.3 691.3 L641.5 692.5 L640.6 693.7 L639.5 694.9 L638.4 696.1 L637.1 697.3 L635.7 698.5 L634.2 699.7 L632.6 700.9 L630.9 702.1 L629.1 703.3 L627.1 704.5 L625.1 705.6 L623 706.8 L620.8 708 L618.4 709.1 L616 710.3 L613.5 711.4 L610.9 712.6 L608.2 713.7 L605.5 714.8 L602.7 716 L599.8 717.1 L596.8 718.2 L593.8 719.3 L590.7 720.4 L587.5 721.5 L584.3 722.6 L581 723.7 L577.7 724.8 L574.4 725.8 L571 726.9 L567.6 728 L564.1 729 L560.6 730.1 L557.1 731.1 L553.6 732.1 L550.1 733.1 L546.5 734.1 L543 735.2 L539.5 736.2 L535.9 737.1 L532.4 738.1 L528.9 739.1 L525.4 740.1 L521.9 741 L518.4 742 L515 742.9 L511.6 743.9 L508.3 744.8 L505 745.7 L501.7 746.7 L498.5 747.6 L495.3 748.5 L492.3 749.4 L489.2 750.3 L486.2 751.2 L483.3 752 L480.5 752.9 L477.8 753.8 L475.1 754.7 L472.5 755.5 L470 756.4 L467.6 757.2 L465.2 758.1 L463 758.9 L460.9 759.7 L458.9 760.6 L456.9 761.4 L455.1 762.2 L453.4 763 L451.8 763.8 L450.3 764.7 L448.9 765.5 L447.6 766.3 L446.5 767.1 L445.4 767.9 L444.5 768.7 L443.7 769.5 L443 770.3 L442.5 771.1 L442.1 771.9 L441.7 772.7 L441.6 773.4 L441.5 774.2 L441.5 821.2 L441.6 820.4 L441.7 819.7 L442.1 818.9 L442.5 818.1 L443 817.3 L443.7 816.5 L444.5 815.7 L445.4 814.9 L446.5 814.1 L447.6 813.3 L448.9 812.5 L450.3 811.7 L451.8 810.8 L453.4 810 L455.1 809.2 L456.9 808.4 L458.9 807.6 L460.9 806.7 L463 805.9 L465.2 805.1 L467.6 804.2 L470 803.4 L472.5 802.5 L475.1 801.7 L477.8 800.8 L480.5 799.9 L483.3 799 L486.2 798.2 L489.2 797.3 L492.3 796.4 L495.3 795.5 L498.5 794.6 L501.7 793.7 L505 792.7 L508.3 791.8 L511.6 790.9 L515 789.9 L518.4 789 L521.9 788 L525.4 787.1 L528.9 786.1 L532.4 785.1 L535.9 784.1 L539.5 783.2 L543 782.2 L546.5 781.1 L550.1 780.1 L553.6 779.1 L557.1 778.1 L560.6 777.1 L564.1 776 L567.6 775 L571 773.9 L574.4 772.8 L577.7 771.8 L581 770.7 L584.3 769.6 L587.5 768.5 L590.7 767.4 L593.8 766.3 L596.8 765.2 L599.8 764.1 L602.7 763 L605.5 761.8 L608.2 760.7 L610.9 759.6 L613.5 758.4 L616 757.3 L618.4 756.1 L620.8 755 L623 753.8 L625.1 752.6 L627.1 751.5 L629.1 750.3 L630.9 749.1 L632.6 747.9 L634.2 746.7 L635.7 745.5 L637.1 744.3 L638.4 743.1 L639.5 741.9 L640.6 740.7 L641.5 739.5 L642.3 738.3 L643 737.1 L643.5 735.9 L643.9 734.7 L644.3 733.5 L644.4 732.3 L644.5 731.1Z" fill="url(#hfront)"/><g clip-path="url(#fclip)" opacity="0.4"><g stroke="#cdcdcd" stroke-width="3.2"><line x1="626.5" y1="341.7" x2="635.6" y2="368.5"/><line x1="597.7" y1="363.5" x2="597.5" y2="401.5"/><line x1="538.8" y1="364" x2="513" y2="394.7"/><line x1="537.5" y1="352" x2="561" y2="374"/><line x1="473" y1="399" x2="513" y2="394.7"/><line x1="513" y1="394.7" x2="522" y2="429"/><line x1="473" y1="399" x2="452.8" y2="440"/><line x1="448.6" y1="417.5" x2="452.8" y2="440"/><line x1="565.4" y1="519" x2="562" y2="552"/><line x1="617" y1="531" x2="590.8" y2="546.3"/><line x1="617" y1="531" x2="634" y2="558"/><line x1="513" y1="560" x2="499.4" y2="601"/><line x1="513" y1="560" x2="535" y2="578"/><line x1="474.8" y1="595.4" x2="499.4" y2="601"/><line x1="474.8" y1="595.4" x2="463.8" y2="633.5"/><line x1="456" y1="610.6" x2="463.8" y2="633.5"/><line x1="499.4" y1="601" x2="501" y2="636"/><line x1="590.8" y1="546" x2="594" y2="585"/><line x1="470.6" y1="555.6" x2="474.8" y2="595.4"/><line x1="520.4" y1="743.7" x2="575.8" y2="759.4"/><line x1="520.4" y1="743.7" x2="482.6" y2="774"/><line x1="482.6" y1="774" x2="466" y2="760"/><line x1="575.8" y1="759.4" x2="620" y2="729"/><line x1="620" y1="729" x2="636.7" y2="751"/><line x1="620" y1="729" x2="633" y2="708.6"/><line x1="598.9" y1="709.5" x2="596" y2="742.8"/><line x1="612.7" y1="693.8" x2="620" y2="729"/></g><line x1="558" y1="562" x2="555" y2="600" stroke="#fff" stroke-width="4.5"/><line x1="558" y1="562" x2="555" y2="600" stroke="#111" stroke-width="2.6" stroke-dasharray="0 5.2" stroke-linecap="round"/><circle cx="597.7" cy="363.5" r="10.5" fill="url(#ball_N)"/><circle cx="561" cy="374" r="9.5" fill="url(#ball_lc)"/><circle cx="635.6" cy="368.5" r="8" fill="url(#ball_H)"/><circle cx="597.5" cy="401.5" r="7.6" fill="url(#ball_H)"/><circle cx="473.2" cy="399" r="11" fill="url(#ball_C)"/><circle cx="513" cy="394.7" r="11.5" fill="url(#ball_g)"/><circle cx="448.6" cy="417.5" r="7" fill="url(#ball_H)"/><circle cx="452.8" cy="440.4" r="9.5" fill="url(#ball_C)"/><circle cx="522.2" cy="429.4" r="10" fill="url(#ball_O)"/><circle cx="617" cy="531" r="9.7" fill="url(#ball_C)"/><circle cx="513" cy="560" r="10" fill="url(#ball_C)"/><circle cx="590.8" cy="546.3" r="11" fill="url(#ball_N)"/><circle cx="562" cy="552.2" r="7" fill="url(#ball_H)"/><circle cx="634" cy="558" r="8.5" fill="url(#ball_lc)"/><circle cx="535" cy="578" r="9.5" fill="url(#ball_g)"/><circle cx="474.8" cy="595.4" r="9" fill="url(#ball_C)"/><circle cx="499.4" cy="601.3" r="11.5" fill="url(#ball_g)"/><circle cx="456.2" cy="610.6" r="7" fill="url(#ball_H)"/><circle cx="594" cy="585" r="7" fill="url(#ball_H)"/><circle cx="633" cy="708.6" r="7.5" fill="url(#ball_H)"/><circle cx="520.4" cy="743.7" r="10.5" fill="url(#ball_C)"/><circle cx="620" cy="729" r="9.5" fill="url(#ball_C)"/><circle cx="596" cy="742.8" r="7" fill="url(#ball_H)"/><circle cx="466" cy="760.3" r="8" fill="url(#ball_H)"/><circle cx="482.6" cy="774" r="10" fill="url(#ball_C)"/><circle cx="575.8" cy="759.4" r="11" fill="url(#ball_g)"/><circle cx="636.7" cy="751" r="8" fill="url(#ball_lc)"/></g><g stroke="#8c8c8c" stroke-width="3.8"><line x1="531" y1="301" x2="504" y2="303"/><line x1="531" y1="301" x2="545" y2="285"/><line x1="531" y1="301" x2="547" y2="329"/><line x1="567" y1="302.5" x2="573.5" y2="342"/><line x1="547" y1="329" x2="595.7" y2="321"/><line x1="600" y1="290" x2="595.7" y2="321"/><line x1="595.7" y1="321" x2="626.5" y2="341.7"/><line x1="626.5" y1="341.7" x2="636" y2="319.5"/><line x1="626.5" y1="341.7" x2="597.7" y2="363.5"/><line x1="573.5" y1="342" x2="597.7" y2="363.5"/><line x1="573.5" y1="342" x2="537.5" y2="352"/><line x1="547" y1="329" x2="537.5" y2="352"/><line x1="537.5" y1="352" x2="528.4" y2="335"/><line x1="537.5" y1="352" x2="538.8" y2="364"/><line x1="462" y1="368.5" x2="473" y2="399"/><line x1="452.8" y1="440" x2="448.6" y2="461.5"/><line x1="452.8" y1="440" x2="480" y2="472.5"/><line x1="480" y1="472.5" x2="516" y2="467"/><line x1="516" y1="467" x2="524" y2="435"/><line x1="516" y1="467" x2="539" y2="493"/><line x1="480" y1="472.5" x2="475.7" y2="503"/><line x1="595.8" y1="462" x2="595.8" y2="500.6"/><line x1="546.8" y1="504" x2="526.5" y2="517.5"/><line x1="546.8" y1="504" x2="565.4" y2="519"/><line x1="546.8" y1="504" x2="558.6" y2="491"/><line x1="546.8" y1="504" x2="551" y2="533.6"/><line x1="595.8" y1="500.6" x2="617" y2="531"/><line x1="617" y1="531" x2="631.4" y2="510.8"/><line x1="551" y1="533.6" x2="513" y2="560"/><line x1="551" y1="533.6" x2="590.8" y2="546.3"/><line x1="494.3" y1="542" x2="513" y2="560"/><line x1="463.8" y1="633.5" x2="447.8" y2="653"/><line x1="463.8" y1="633.5" x2="509.5" y2="662"/><line x1="509.5" y1="662" x2="551.8" y2="646"/><line x1="554.4" y1="609" x2="551.8" y2="646"/><line x1="551.8" y1="646" x2="590" y2="677.5"/><line x1="590" y1="677.5" x2="595" y2="658"/><line x1="606.8" y1="648.7" x2="612.7" y2="693.8"/><line x1="590" y1="677.5" x2="579.5" y2="701"/><line x1="590" y1="677.5" x2="598.9" y2="709.5"/><line x1="509.5" y1="662" x2="496.8" y2="690"/><line x1="514" y1="699.4" x2="520.4" y2="743.7"/><line x1="482.6" y1="774" x2="497.4" y2="800"/><line x1="575.8" y1="759.4" x2="586" y2="799"/></g><g stroke="#dcdcdc" stroke-width="2.2"><line x1="531" y1="301" x2="504" y2="303"/><line x1="531" y1="301" x2="545" y2="285"/><line x1="531" y1="301" x2="547" y2="329"/><line x1="567" y1="302.5" x2="573.5" y2="342"/><line x1="547" y1="329" x2="595.7" y2="321"/><line x1="600" y1="290" x2="595.7" y2="321"/><line x1="595.7" y1="321" x2="626.5" y2="341.7"/><line x1="626.5" y1="341.7" x2="636" y2="319.5"/><line x1="626.5" y1="341.7" x2="597.7" y2="363.5"/><line x1="573.5" y1="342" x2="597.7" y2="363.5"/><line x1="573.5" y1="342" x2="537.5" y2="352"/><line x1="547" y1="329" x2="537.5" y2="352"/><line x1="537.5" y1="352" x2="528.4" y2="335"/><line x1="537.5" y1="352" x2="538.8" y2="364"/><line x1="462" y1="368.5" x2="473" y2="399"/><line x1="452.8" y1="440" x2="448.6" y2="461.5"/><line x1="452.8" y1="440" x2="480" y2="472.5"/><line x1="480" y1="472.5" x2="516" y2="467"/><line x1="516" y1="467" x2="524" y2="435"/><line x1="516" y1="467" x2="539" y2="493"/><line x1="480" y1="472.5" x2="475.7" y2="503"/><line x1="595.8" y1="462" x2="595.8" y2="500.6"/><line x1="546.8" y1="504" x2="526.5" y2="517.5"/><line x1="546.8" y1="504" x2="565.4" y2="519"/><line x1="546.8" y1="504" x2="558.6" y2="491"/><line x1="546.8" y1="504" x2="551" y2="533.6"/><line x1="595.8" y1="500.6" x2="617" y2="531"/><line x1="617" y1="531" x2="631.4" y2="510.8"/><line x1="551" y1="533.6" x2="513" y2="560"/><line x1="551" y1="533.6" x2="590.8" y2="546.3"/><line x1="494.3" y1="542" x2="513" y2="560"/><line x1="463.8" y1="633.5" x2="447.8" y2="653"/><line x1="463.8" y1="633.5" x2="509.5" y2="662"/><line x1="509.5" y1="662" x2="551.8" y2="646"/><line x1="554.4" y1="609" x2="551.8" y2="646"/><line x1="551.8" y1="646" x2="590" y2="677.5"/><line x1="590" y1="677.5" x2="595" y2="658"/><line x1="606.8" y1="648.7" x2="612.7" y2="693.8"/><line x1="590" y1="677.5" x2="579.5" y2="701"/><line x1="590" y1="677.5" x2="598.9" y2="709.5"/><line x1="509.5" y1="662" x2="496.8" y2="690"/><line x1="514" y1="699.4" x2="520.4" y2="743.7"/><line x1="482.6" y1="774" x2="497.4" y2="800"/><line x1="575.8" y1="759.4" x2="586" y2="799"/></g><line x1="598" y1="410" x2="596" y2="452" stroke="#fff" stroke-width="4.5"/><line x1="598" y1="410" x2="596" y2="452" stroke="#111" stroke-width="2.6" stroke-dasharray="0 5.2" stroke-linecap="round"/><line x1="527" y1="440" x2="537" y2="482" stroke="#fff" stroke-width="4.5"/><line x1="527" y1="440" x2="537" y2="482" stroke="#111" stroke-width="2.6" stroke-dasharray="0 5.2" stroke-linecap="round"/><line x1="475.7" y1="510" x2="470.6" y2="546" stroke="#fff" stroke-width="4.5"/><line x1="475.7" y1="510" x2="470.6" y2="546" stroke="#111" stroke-width="2.6" stroke-dasharray="0 5.2" stroke-linecap="round"/><line x1="597" y1="594" x2="606" y2="640" stroke="#fff" stroke-width="4.5"/><line x1="597" y1="594" x2="606" y2="640" stroke="#111" stroke-width="2.6" stroke-dasharray="0 5.2" stroke-linecap="round"/><circle cx="504.2" cy="303.1" r="9.8" fill="url(#ball_lc)"/><circle cx="544.7" cy="284.8" r="6.5" fill="url(#ball_cy)"/><circle cx="531" cy="301.2" r="9.2" fill="url(#ball_C)"/><circle cx="567" cy="302.5" r="11" fill="url(#ball_O)"/><circle cx="600.3" cy="290" r="8.5" fill="url(#ball_O)"/><circle cx="547.3" cy="329.3" r="9.2" fill="url(#ball_N)"/><circle cx="595.7" cy="321.4" r="9" fill="url(#ball_C)"/><circle cx="636.3" cy="319.5" r="7.8" fill="url(#ball_H)"/><circle cx="528.4" cy="335.2" r="7" fill="url(#ball_cy)"/><circle cx="573.5" cy="342.3" r="11" fill="url(#ball_C)"/><circle cx="537.5" cy="352.2" r="10.5" fill="url(#ball_C)"/><circle cx="626.5" cy="341.7" r="9.2" fill="url(#ball_C)"/><circle cx="538.8" cy="364" r="7.8" fill="url(#ball_H)"/><circle cx="462.2" cy="368.5" r="10" fill="url(#ball_O)"/><circle cx="524" cy="435.3" r="8" fill="url(#ball_H)"/><circle cx="448.6" cy="461.5" r="7.6" fill="url(#ball_lc)"/><circle cx="480" cy="472.5" r="9.5" fill="url(#ball_N)"/><circle cx="516.3" cy="467" r="9.3" fill="url(#ball_C)"/><circle cx="595.8" cy="462" r="9.3" fill="url(#ball_O)"/><circle cx="475.7" cy="503.2" r="7.5" fill="url(#ball_H)"/><circle cx="546.8" cy="504" r="9" fill="url(#ball_C)"/><circle cx="539.2" cy="493" r="11.5" fill="url(#ball_O)"/><circle cx="558.6" cy="491.3" r="7" fill="url(#ball_H)"/><circle cx="595.8" cy="500.6" r="9.7" fill="url(#ball_C)"/><circle cx="526.5" cy="517.5" r="10" fill="url(#ball_lc)"/><circle cx="565.4" cy="519.2" r="10" fill="url(#ball_N)"/><circle cx="631.4" cy="510.8" r="8" fill="url(#ball_H)"/><circle cx="551" cy="533.6" r="11" fill="url(#ball_C)"/><circle cx="494.3" cy="542" r="9" fill="url(#ball_g)"/><circle cx="470.6" cy="555.6" r="9" fill="url(#ball_O)"/><circle cx="554.4" cy="609" r="9" fill="url(#ball_O)"/><circle cx="463.8" cy="633.5" r="8.5" fill="url(#ball_C)"/><circle cx="501" cy="636" r="7.5" fill="url(#ball_H)"/><circle cx="447.8" cy="653" r="10" fill="url(#ball_lc)"/><circle cx="509.5" cy="662.2" r="9.5" fill="url(#ball_N)"/><circle cx="551.8" cy="646.2" r="9" fill="url(#ball_C)"/><circle cx="606.8" cy="648.7" r="9" fill="url(#ball_O)"/><circle cx="595" cy="658" r="7.5" fill="url(#ball_H)"/><circle cx="590" cy="677.5" r="9" fill="url(#ball_C)"/><circle cx="496.8" cy="690.2" r="7.5" fill="url(#ball_H)"/><circle cx="514" cy="699.4" r="11" fill="url(#ball_O)"/><circle cx="612.7" cy="693.8" r="9.5" fill="url(#ball_C)"/><circle cx="579.5" cy="701.2" r="9.5" fill="url(#ball_lc)"/><circle cx="598.9" cy="709.5" r="9.5" fill="url(#ball_N)"/><circle cx="497.4" cy="800" r="10" fill="url(#ball_lc)"/><circle cx="586" cy="799" r="8.5" fill="url(#ball_g)"/><path d="M604.8 613.8 C625 613.5 651 613 676 605 C686 601.5 694 597 701.4 592.3 L694 586.5 L726 570 L724 605.8 L715.5 601 C705 609 694 615 682.3 618.8 C660 626.5 630 630.5 604.8 630.5 Z" fill="url(#ar1)"/><g transform="translate(0 0) scale(1.0)"><path d="M741 411 C715 408 700 420 700 441 C700 462 712 477 732 486" fill="none" stroke="#5e3592" stroke-width="30" stroke-linecap="round" stroke-linejoin="round"/><path d="M741 411 C715 408 700 420 700 441 C700 462 712 477 732 486" fill="none" stroke="#6d43a0" stroke-width="27" stroke-linecap="round" stroke-linejoin="round"/><path d="M741 411 C715 408 700 420 700 441 C700 462 712 477 732 486" fill="none" stroke="#7a4eab" stroke-width="24" stroke-linecap="round" stroke-linejoin="round"/><path d="M741 411 C715 408 700 420 700 441 C700 462 712 477 732 486" fill="none" stroke="#8258b2" stroke-width="19.8" stroke-linecap="round" stroke-linejoin="round"/><path d="M741 411 C715 408 700 420 700 441 C700 462 712 477 732 486" fill="none" stroke="#8a62ba" stroke-width="15" stroke-linecap="round" stroke-linejoin="round"/><path d="M741 411 C715 408 700 420 700 441 C700 462 712 477 732 486" fill="none" stroke="#916bbe" stroke-width="9" stroke-linecap="round" stroke-linejoin="round"/><path d="M762 413 C783 412 801 418 816 429" fill="none" stroke="#5e3592" stroke-width="29" stroke-linecap="round" stroke-linejoin="round"/><path d="M762 413 C783 412 801 418 816 429" fill="none" stroke="#6d43a0" stroke-width="26.1" stroke-linecap="round" stroke-linejoin="round"/><path d="M762 413 C783 412 801 418 816 429" fill="none" stroke="#7a4eab" stroke-width="23.2" stroke-linecap="round" stroke-linejoin="round"/><path d="M762 413 C783 412 801 418 816 429" fill="none" stroke="#8258b2" stroke-width="19.1" stroke-linecap="round" stroke-linejoin="round"/><path d="M762 413 C783 412 801 418 816 429" fill="none" stroke="#8a62ba" stroke-width="14.5" stroke-linecap="round" stroke-linejoin="round"/><path d="M762 413 C783 412 801 418 816 429" fill="none" stroke="#916bbe" stroke-width="8.7" stroke-linecap="round" stroke-linejoin="round"/><path d="M745 486 C726 483 715 495 715 511 C715 527 727 535 745 534" fill="none" stroke="#5e3592" stroke-width="30" stroke-linecap="round" stroke-linejoin="round"/><path d="M745 486 C726 483 715 495 715 511 C715 527 727 535 745 534" fill="none" stroke="#6d43a0" stroke-width="27" stroke-linecap="round" stroke-linejoin="round"/><path d="M745 486 C726 483 715 495 715 511 C715 527 727 535 745 534" fill="none" stroke="#7a4eab" stroke-width="24" stroke-linecap="round" stroke-linejoin="round"/><path d="M745 486 C726 483 715 495 715 511 C715 527 727 535 745 534" fill="none" stroke="#8258b2" stroke-width="19.8" stroke-linecap="round" stroke-linejoin="round"/><path d="M745 486 C726 483 715 495 715 511 C715 527 727 535 745 534" fill="none" stroke="#8a62ba" stroke-width="15" stroke-linecap="round" stroke-linejoin="round"/><path d="M745 486 C726 483 715 495 715 511 C715 527 727 535 745 534" fill="none" stroke="#916bbe" stroke-width="9" stroke-linecap="round" stroke-linejoin="round"/><path d="M852 548 C845 538 830 535 818 542 C808 549 804 560 799 573 C794 586 787 597 772 599" fill="none" stroke="#3a1f62" stroke-width="30" stroke-linecap="round" stroke-linejoin="round"/><path d="M852 548 C845 538 830 535 818 542 C808 549 804 560 799 573 C794 586 787 597 772 599" fill="none" stroke="#3f2269" stroke-width="27" stroke-linecap="round" stroke-linejoin="round"/><path d="M852 548 C845 538 830 535 818 542 C808 549 804 560 799 573 C794 586 787 597 772 599" fill="none" stroke="#43256e" stroke-width="24" stroke-linecap="round" stroke-linejoin="round"/><path d="M852 548 C845 538 830 535 818 542 C808 549 804 560 799 573 C794 586 787 597 772 599" fill="none" stroke="#43256e" stroke-width="19.8" stroke-linecap="round" stroke-linejoin="round"/><path d="M852 548 C845 538 830 535 818 542 C808 549 804 560 799 573 C794 586 787 597 772 599" fill="none" stroke="#43256e" stroke-width="15" stroke-linecap="round" stroke-linejoin="round"/><path d="M852 548 C845 538 830 535 818 542 C808 549 804 560 799 573 C794 586 787 597 772 599" fill="none" stroke="#4e3277" stroke-width="9" stroke-linecap="round" stroke-linejoin="round"/><path d="M766 384 C805 381 838 388 848 420 C858 452 853 490 831 506 C816 516 795 515 775 515" fill="none" stroke="#5e3592" stroke-width="30" stroke-linecap="round" stroke-linejoin="round"/><path d="M766 384 C805 381 838 388 848 420 C858 452 853 490 831 506 C816 516 795 515 775 515" fill="none" stroke="#6d43a0" stroke-width="27" stroke-linecap="round" stroke-linejoin="round"/><path d="M766 384 C805 381 838 388 848 420 C858 452 853 490 831 506 C816 516 795 515 775 515" fill="none" stroke="#7a4eab" stroke-width="24" stroke-linecap="round" stroke-linejoin="round"/><path d="M766 384 C805 381 838 388 848 420 C858 452 853 490 831 506 C816 516 795 515 775 515" fill="none" stroke="#8258b2" stroke-width="19.8" stroke-linecap="round" stroke-linejoin="round"/><path d="M766 384 C805 381 838 388 848 420 C858 452 853 490 831 506 C816 516 795 515 775 515" fill="none" stroke="#8a62ba" stroke-width="15" stroke-linecap="round" stroke-linejoin="round"/><path d="M766 384 C805 381 838 388 848 420 C858 452 853 490 831 506 C816 516 795 515 775 515" fill="none" stroke="#916bbe" stroke-width="9" stroke-linecap="round" stroke-linejoin="round"/><path d="M765 486 L797 486" fill="none" stroke="#5e3592" stroke-width="34" stroke-linecap="butt" stroke-linejoin="round"/><path d="M765 486 L797 486" fill="none" stroke="#6d43a0" stroke-width="30.6" stroke-linecap="butt" stroke-linejoin="round"/><path d="M765 486 L797 486" fill="none" stroke="#7a4eab" stroke-width="27.2" stroke-linecap="butt" stroke-linejoin="round"/><path d="M765 486 L797 486" fill="none" stroke="#8258b2" stroke-width="22.4" stroke-linecap="butt" stroke-linejoin="round"/><path d="M765 486 L797 486" fill="none" stroke="#8a62ba" stroke-width="17" stroke-linecap="butt" stroke-linejoin="round"/><path d="M765 486 L797 486" fill="none" stroke="#916bbe" stroke-width="10.2" stroke-linecap="butt" stroke-linejoin="round"/><ellipse cx="797" cy="486" rx="11" ry="17.5" fill="#b59cd6" stroke="#5e3592" stroke-width="1.2"/><ellipse cx="798" cy="486" rx="6" ry="11" fill="#a085c8"/><path d="M765 548 C785 548 800 559 811 570 C821 580 834 584 845 581 C857 577 859 560 852 548" fill="none" stroke="#5e3592" stroke-width="30" stroke-linecap="round" stroke-linejoin="round"/><path d="M765 548 C785 548 800 559 811 570 C821 580 834 584 845 581 C857 577 859 560 852 548" fill="none" stroke="#6d43a0" stroke-width="27" stroke-linecap="round" stroke-linejoin="round"/><path d="M765 548 C785 548 800 559 811 570 C821 580 834 584 845 581 C857 577 859 560 852 548" fill="none" stroke="#7a4eab" stroke-width="24" stroke-linecap="round" stroke-linejoin="round"/><path d="M765 548 C785 548 800 559 811 570 C821 580 834 584 845 581 C857 577 859 560 852 548" fill="none" stroke="#8258b2" stroke-width="19.8" stroke-linecap="round" stroke-linejoin="round"/><path d="M765 548 C785 548 800 559 811 570 C821 580 834 584 845 581 C857 577 859 560 852 548" fill="none" stroke="#8a62ba" stroke-width="15" stroke-linecap="round" stroke-linejoin="round"/><path d="M765 548 C785 548 800 559 811 570 C821 580 834 584 845 581 C857 577 859 560 852 548" fill="none" stroke="#916bbe" stroke-width="9" stroke-linecap="round" stroke-linejoin="round"/><path d="M735.5 388 A18.5 19 0 0 1 754 369 L772.5 369 L772.5 596 A18.5 18 0 0 1 735.5 596 Z" fill="url(#cylP)" stroke="#5e3592" stroke-width="1.3"/></g><path d="M738.8 458.9 L738.9 459 L739.3 459.2 L739.9 459.3 L740.7 459.5 L741.7 459.7 L743 459.9 L744.4 460.1 L745.9 460.4 L747.6 460.8 L749.3 461.2 L751.1 461.6 L753 462.1 L754.9 462.6 L756.7 463.2 L758.4 463.9 L760.1 464.6 L761.6 465.3 L763 466.1 L764.3 466.9 L765.3 467.7 L766.1 468.6 L766.7 469.5 L767.1 470.4 L767.2 471.3 L767.2 472.7 L767.1 472.6 L766.7 472.4 L766.1 472.3 L765.3 472.1 L764.3 471.9 L763 471.7 L761.6 471.5 L760.1 471.2 L758.4 470.8 L756.7 470.4 L754.9 470 L753 469.5 L751.1 469 L749.3 468.4 L747.6 467.7 L745.9 467 L744.4 466.3 L743 465.5 L741.7 464.7 L740.7 463.9 L739.9 463 L739.3 462.1 L738.9 461.2 L738.8 460.3Z" fill="#e2841b"/><path d="M738.8 483.7 L738.9 483.8 L739.3 484 L739.9 484.1 L740.7 484.3 L741.7 484.5 L743 484.7 L744.4 484.9 L745.9 485.2 L747.6 485.6 L749.3 486 L751.1 486.4 L753 486.9 L754.9 487.4 L756.7 488 L758.4 488.7 L760.1 489.4 L761.6 490.1 L763 490.9 L764.3 491.7 L765.3 492.5 L766.1 493.4 L766.7 494.3 L767.1 495.2 L767.2 496.1 L767.2 497.5 L767.1 497.4 L766.7 497.2 L766.1 497.1 L765.3 496.9 L764.3 496.7 L763 496.5 L761.6 496.3 L760.1 496 L758.4 495.6 L756.7 495.2 L754.9 494.8 L753 494.3 L751.1 493.8 L749.3 493.2 L747.6 492.5 L745.9 491.8 L744.4 491.1 L743 490.3 L741.7 489.5 L740.7 488.7 L739.9 487.8 L739.3 486.9 L738.9 486 L738.8 485.1Z" fill="#e2841b"/><path d="M738.8 508.5 L738.9 508.6 L739.3 508.8 L739.9 508.9 L740.7 509.1 L741.7 509.3 L743 509.5 L744.4 509.7 L745.9 510 L747.6 510.4 L749.3 510.8 L751.1 511.2 L753 511.7 L754.9 512.2 L756.7 512.8 L758.4 513.5 L760.1 514.2 L761.6 514.9 L763 515.7 L764.3 516.5 L765.3 517.3 L766.1 518.2 L766.7 519.1 L767.1 520 L767.2 520.9 L767.2 522.3 L767.1 522.2 L766.7 522 L766.1 521.9 L765.3 521.7 L764.3 521.5 L763 521.3 L761.6 521.1 L760.1 520.8 L758.4 520.4 L756.7 520 L754.9 519.6 L753 519.1 L751.1 518.6 L749.3 518 L747.6 517.3 L745.9 516.6 L744.4 515.9 L743 515.1 L741.7 514.3 L740.7 513.5 L739.9 512.6 L739.3 511.7 L738.9 510.8 L738.8 509.9Z" fill="#e2841b"/><path d="M738.8 533.3 L738.9 533.4 L739.3 533.6 L739.9 533.7 L740.7 533.9 L741.7 534.1 L743 534.3 L744.4 534.5 L745.9 534.8 L747.6 535.2 L749.3 535.6 L751.1 536 L753 536.5 L754.9 537 L756.7 537.6 L758.4 538.3 L760.1 539 L761.6 539.7 L763 540.5 L764.3 541.3 L765.3 542.1 L766.1 543 L766.7 543.9 L767.1 544.8 L767.2 545.7 L767.2 547.1 L767.1 547 L766.7 546.8 L766.1 546.7 L765.3 546.5 L764.3 546.3 L763 546.1 L761.6 545.9 L760.1 545.6 L758.4 545.2 L756.7 544.8 L754.9 544.4 L753 543.9 L751.1 543.4 L749.3 542.8 L747.6 542.1 L745.9 541.4 L744.4 540.7 L743 539.9 L741.7 539.1 L740.7 538.3 L739.9 537.4 L739.3 536.5 L738.9 535.6 L738.8 534.7Z" fill="#e2841b"/><path d="M767.2 446.5 L767.1 446.6 L766.7 446.8 L766.1 446.9 L765.3 447.1 L764.3 447.3 L763 447.5 L761.6 447.7 L760.1 448 L758.4 448.4 L756.7 448.8 L754.9 449.2 L753 449.7 L751.1 450.2 L749.3 450.8 L747.6 451.5 L745.9 452.2 L744.4 452.9 L743 453.7 L741.7 454.5 L740.7 455.3 L739.9 456.2 L739.3 457.1 L738.9 458 L738.8 458.9 L738.8 460.3 L738.9 460.2 L739.3 460 L739.9 459.9 L740.7 459.7 L741.7 459.5 L743 459.3 L744.4 459.1 L745.9 458.8 L747.6 458.4 L749.3 458 L751.1 457.6 L753 457.1 L754.9 456.6 L756.7 456 L758.4 455.3 L760.1 454.6 L761.6 453.9 L763 453.1 L764.3 452.3 L765.3 451.5 L766.1 450.6 L766.7 449.7 L767.1 448.8 L767.2 447.9Z" fill="url(#mhg)"/><path d="M767.2 471.3 L767.1 471.4 L766.7 471.6 L766.1 471.7 L765.3 471.9 L764.3 472.1 L763 472.3 L761.6 472.5 L760.1 472.8 L758.4 473.2 L756.7 473.6 L754.9 474 L753 474.5 L751.1 475 L749.3 475.6 L747.6 476.3 L745.9 477 L744.4 477.7 L743 478.5 L741.7 479.3 L740.7 480.1 L739.9 481 L739.3 481.9 L738.9 482.8 L738.8 483.7 L738.8 485.1 L738.9 485 L739.3 484.8 L739.9 484.7 L740.7 484.5 L741.7 484.3 L743 484.1 L744.4 483.9 L745.9 483.6 L747.6 483.2 L749.3 482.8 L751.1 482.4 L753 481.9 L754.9 481.4 L756.7 480.8 L758.4 480.1 L760.1 479.4 L761.6 478.7 L763 477.9 L764.3 477.1 L765.3 476.3 L766.1 475.4 L766.7 474.5 L767.1 473.6 L767.2 472.7Z" fill="url(#mhg)"/><path d="M767.2 496.1 L767.1 496.2 L766.7 496.4 L766.1 496.5 L765.3 496.7 L764.3 496.9 L763 497.1 L761.6 497.3 L760.1 497.6 L758.4 498 L756.7 498.4 L754.9 498.8 L753 499.3 L751.1 499.8 L749.3 500.4 L747.6 501.1 L745.9 501.8 L744.4 502.5 L743 503.3 L741.7 504.1 L740.7 504.9 L739.9 505.8 L739.3 506.7 L738.9 507.6 L738.8 508.5 L738.8 509.9 L738.9 509.8 L739.3 509.6 L739.9 509.5 L740.7 509.3 L741.7 509.1 L743 508.9 L744.4 508.7 L745.9 508.4 L747.6 508 L749.3 507.6 L751.1 507.2 L753 506.7 L754.9 506.2 L756.7 505.6 L758.4 504.9 L760.1 504.2 L761.6 503.5 L763 502.7 L764.3 501.9 L765.3 501.1 L766.1 500.2 L766.7 499.3 L767.1 498.4 L767.2 497.5Z" fill="url(#mhg)"/><path d="M767.2 520.9 L767.1 521 L766.7 521.2 L766.1 521.3 L765.3 521.5 L764.3 521.7 L763 521.9 L761.6 522.1 L760.1 522.4 L758.4 522.8 L756.7 523.2 L754.9 523.6 L753 524.1 L751.1 524.6 L749.3 525.2 L747.6 525.9 L745.9 526.6 L744.4 527.3 L743 528.1 L741.7 528.9 L740.7 529.7 L739.9 530.6 L739.3 531.5 L738.9 532.4 L738.8 533.3 L738.8 534.7 L738.9 534.6 L739.3 534.4 L739.9 534.3 L740.7 534.1 L741.7 533.9 L743 533.7 L744.4 533.5 L745.9 533.2 L747.6 532.8 L749.3 532.4 L751.1 532 L753 531.5 L754.9 531 L756.7 530.4 L758.4 529.7 L760.1 529 L761.6 528.3 L763 527.5 L764.3 526.7 L765.3 525.9 L766.1 525 L766.7 524.1 L767.1 523.2 L767.2 522.3Z" fill="url(#mhg)"/><path d="M767.2 545.7 L767.1 545.8 L766.7 546 L766.1 546.1 L765.3 546.3 L764.3 546.5 L763 546.7 L761.6 546.9 L760.1 547.2 L758.4 547.6 L756.7 548 L754.9 548.4 L753 548.9 L751.1 549.4 L749.3 550 L747.6 550.7 L745.9 551.4 L744.4 552.1 L743 552.9 L741.7 553.7 L740.7 554.5 L739.9 555.4 L739.3 556.3 L738.9 557.2 L738.8 558.1 L738.8 559.5 L738.9 559.4 L739.3 559.2 L739.9 559.1 L740.7 558.9 L741.7 558.7 L743 558.5 L744.4 558.3 L745.9 558 L747.6 557.6 L749.3 557.2 L751.1 556.8 L753 556.3 L754.9 555.8 L756.7 555.2 L758.4 554.5 L760.1 553.8 L761.6 553.1 L763 552.3 L764.3 551.5 L765.3 550.7 L766.1 549.8 L766.7 548.9 L767.1 548 L767.2 547.1Z" fill="url(#mhg)"/><path d="M866.9 421.5 C885 405 912 397.5 933 398.5 C953 399.5 969 404.5 982.3 411.2 L988.7 403.7 L1000.2 437.1 L965 429.6 L970.8 423.3 C958 418 943 414.2 929 414.2 C910 414.5 890 423 875 435.4 Z" fill="url(#ar2)"/><g transform="translate(0 0)"><path d="M 1209.7 522.9 C 1195.9 519.4 1187.6 505.6 1176.5 488.9 C 1169.6 478.6 1162.6 473 1151.6 471.6" fill="none" stroke="#9c7408" stroke-width="16.5" stroke-linecap="round" stroke-linejoin="round"/><path d="M 1209.7 522.9 C 1195.9 519.4 1187.6 505.6 1176.5 488.9 C 1169.6 478.6 1162.6 473 1151.6 471.6" fill="none" stroke="#ab800b" stroke-width="14.8" stroke-linecap="round" stroke-linejoin="round"/><path d="M 1209.7 522.9 C 1195.9 519.4 1187.6 505.6 1176.5 488.9 C 1169.6 478.6 1162.6 473 1151.6 471.6" fill="none" stroke="#b88a0e" stroke-width="13.2" stroke-linecap="round" stroke-linejoin="round"/><path d="M 1209.7 522.9 C 1195.9 519.4 1187.6 505.6 1176.5 488.9 C 1169.6 478.6 1162.6 473 1151.6 471.6" fill="none" stroke="#b88a0e" stroke-width="10.9" stroke-linecap="round" stroke-linejoin="round"/><path d="M 1209.7 522.9 C 1195.9 519.4 1187.6 505.6 1176.5 488.9 C 1169.6 478.6 1162.6 473 1151.6 471.6" fill="none" stroke="#b88a0e" stroke-width="8.2" stroke-linecap="round" stroke-linejoin="round"/><path d="M 1209.7 522.9 C 1195.9 519.4 1187.6 505.6 1176.5 488.9 C 1169.6 478.6 1162.6 473 1151.6 471.6" fill="none" stroke="#bc911c" stroke-width="5" stroke-linecap="round" stroke-linejoin="round"/><path d="M 1226.3 498.6 C 1241.6 490.3 1248.5 476.5 1243 462.6 C 1237.4 451.6 1219.4 448.8 1208.3 455.7 C 1198.6 462.6 1198.6 473.7 1205.6 484.8" fill="none" stroke="#c8940e" stroke-width="16.5" stroke-linecap="round" stroke-linejoin="round"/><path d="M 1226.3 498.6 C 1241.6 490.3 1248.5 476.5 1243 462.6 C 1237.4 451.6 1219.4 448.8 1208.3 455.7 C 1198.6 462.6 1198.6 473.7 1205.6 484.8" fill="none" stroke="#deaa19" stroke-width="14.8" stroke-linecap="round" stroke-linejoin="round"/><path d="M 1226.3 498.6 C 1241.6 490.3 1248.5 476.5 1243 462.6 C 1237.4 451.6 1219.4 448.8 1208.3 455.7 C 1198.6 462.6 1198.6 473.7 1205.6 484.8" fill="none" stroke="#f0bc22" stroke-width="13.2" stroke-linecap="round" stroke-linejoin="round"/><path d="M 1226.3 498.6 C 1241.6 490.3 1248.5 476.5 1243 462.6 C 1237.4 451.6 1219.4 448.8 1208.3 455.7 C 1198.6 462.6 1198.6 473.7 1205.6 484.8" fill="none" stroke="#f6c42e" stroke-width="10.9" stroke-linecap="round" stroke-linejoin="round"/><path d="M 1226.3 498.6 C 1241.6 490.3 1248.5 476.5 1243 462.6 C 1237.4 451.6 1219.4 448.8 1208.3 455.7 C 1198.6 462.6 1198.6 473.7 1205.6 484.8" fill="none" stroke="#fbcd3a" stroke-width="8.2" stroke-linecap="round" stroke-linejoin="round"/><path d="M 1226.3 498.6 C 1241.6 490.3 1248.5 476.5 1243 462.6 C 1237.4 451.6 1219.4 448.8 1208.3 455.7 C 1198.6 462.6 1198.6 473.7 1205.6 484.8" fill="none" stroke="#fbd046" stroke-width="5" stroke-linecap="round" stroke-linejoin="round"/><path d="M 1151.6 471.6 C 1134.9 469.6 1121.8 482 1125.2 498.6 C 1129.4 515.3 1151.6 519.4 1172.3 516.6 C 1193.1 513.9 1213.9 507 1227.7 498" fill="none" stroke="#c8940e" stroke-width="16.5" stroke-linecap="round" stroke-linejoin="round"/><path d="M 1151.6 471.6 C 1134.9 469.6 1121.8 482 1125.2 498.6 C 1129.4 515.3 1151.6 519.4 1172.3 516.6 C 1193.1 513.9 1213.9 507 1227.7 498" fill="none" stroke="#deaa19" stroke-width="14.8" stroke-linecap="round" stroke-linejoin="round"/><path d="M 1151.6 471.6 C 1134.9 469.6 1121.8 482 1125.2 498.6 C 1129.4 515.3 1151.6 519.4 1172.3 516.6 C 1193.1 513.9 1213.9 507 1227.7 498" fill="none" stroke="#f0bc22" stroke-width="13.2" stroke-linecap="round" stroke-linejoin="round"/><path d="M 1151.6 471.6 C 1134.9 469.6 1121.8 482 1125.2 498.6 C 1129.4 515.3 1151.6 519.4 1172.3 516.6 C 1193.1 513.9 1213.9 507 1227.7 498" fill="none" stroke="#f6c42e" stroke-width="10.9" stroke-linecap="round" stroke-linejoin="round"/><path d="M 1151.6 471.6 C 1134.9 469.6 1121.8 482 1125.2 498.6 C 1129.4 515.3 1151.6 519.4 1172.3 516.6 C 1193.1 513.9 1213.9 507 1227.7 498" fill="none" stroke="#fbcd3a" stroke-width="8.2" stroke-linecap="round" stroke-linejoin="round"/><path d="M 1151.6 471.6 C 1134.9 469.6 1121.8 482 1125.2 498.6 C 1129.4 515.3 1151.6 519.4 1172.3 516.6 C 1193.1 513.9 1213.9 507 1227.7 498" fill="none" stroke="#fbd046" stroke-width="5" stroke-linecap="round" stroke-linejoin="round"/><path d="M 1170.9 425.5 C 1155.7 422.7 1139.8 428 1142.5 444.6 C 1145.3 457.1 1187.6 473.7 1215.3 487.6 C 1234.7 497.3 1248.5 507 1243.7 519.4 C 1240.2 527.7 1223.6 528.4 1209.7 522.9" fill="none" stroke="#c8940e" stroke-width="16.5" stroke-linecap="round" stroke-linejoin="round"/><path d="M 1170.9 425.5 C 1155.7 422.7 1139.8 428 1142.5 444.6 C 1145.3 457.1 1187.6 473.7 1215.3 487.6 C 1234.7 497.3 1248.5 507 1243.7 519.4 C 1240.2 527.7 1223.6 528.4 1209.7 522.9" fill="none" stroke="#deaa19" stroke-width="14.8" stroke-linecap="round" stroke-linejoin="round"/><path d="M 1170.9 425.5 C 1155.7 422.7 1139.8 428 1142.5 444.6 C 1145.3 457.1 1187.6 473.7 1215.3 487.6 C 1234.7 497.3 1248.5 507 1243.7 519.4 C 1240.2 527.7 1223.6 528.4 1209.7 522.9" fill="none" stroke="#f0bc22" stroke-width="13.2" stroke-linecap="round" stroke-linejoin="round"/><path d="M 1170.9 425.5 C 1155.7 422.7 1139.8 428 1142.5 444.6 C 1145.3 457.1 1187.6 473.7 1215.3 487.6 C 1234.7 497.3 1248.5 507 1243.7 519.4 C 1240.2 527.7 1223.6 528.4 1209.7 522.9" fill="none" stroke="#f6c42e" stroke-width="10.9" stroke-linecap="round" stroke-linejoin="round"/><path d="M 1170.9 425.5 C 1155.7 422.7 1139.8 428 1142.5 444.6 C 1145.3 457.1 1187.6 473.7 1215.3 487.6 C 1234.7 497.3 1248.5 507 1243.7 519.4 C 1240.2 527.7 1223.6 528.4 1209.7 522.9" fill="none" stroke="#fbcd3a" stroke-width="8.2" stroke-linecap="round" stroke-linejoin="round"/><path d="M 1170.9 425.5 C 1155.7 422.7 1139.8 428 1142.5 444.6 C 1145.3 457.1 1187.6 473.7 1215.3 487.6 C 1234.7 497.3 1248.5 507 1243.7 519.4 C 1240.2 527.7 1223.6 528.4 1209.7 522.9" fill="none" stroke="#fbd046" stroke-width="5" stroke-linecap="round" stroke-linejoin="round"/></g><g transform="translate(-123 129.5)"><path d="M 1209.7 522.9 C 1195.9 519.4 1187.6 505.6 1176.5 488.9 C 1169.6 478.6 1162.6 473 1151.6 471.6" fill="none" stroke="#06534b" stroke-width="16.5" stroke-linecap="round" stroke-linejoin="round"/><path d="M 1209.7 522.9 C 1195.9 519.4 1187.6 505.6 1176.5 488.9 C 1169.6 478.6 1162.6 473 1151.6 471.6" fill="none" stroke="#096057" stroke-width="14.8" stroke-linecap="round" stroke-linejoin="round"/><path d="M 1209.7 522.9 C 1195.9 519.4 1187.6 505.6 1176.5 488.9 C 1169.6 478.6 1162.6 473 1151.6 471.6" fill="none" stroke="#0b6a60" stroke-width="13.2" stroke-linecap="round" stroke-linejoin="round"/><path d="M 1209.7 522.9 C 1195.9 519.4 1187.6 505.6 1176.5 488.9 C 1169.6 478.6 1162.6 473 1151.6 471.6" fill="none" stroke="#0b6a60" stroke-width="10.9" stroke-linecap="round" stroke-linejoin="round"/><path d="M 1209.7 522.9 C 1195.9 519.4 1187.6 505.6 1176.5 488.9 C 1169.6 478.6 1162.6 473 1151.6 471.6" fill="none" stroke="#0b6a60" stroke-width="8.2" stroke-linecap="round" stroke-linejoin="round"/><path d="M 1209.7 522.9 C 1195.9 519.4 1187.6 505.6 1176.5 488.9 C 1169.6 478.6 1162.6 473 1151.6 471.6" fill="none" stroke="#1a736a" stroke-width="5" stroke-linecap="round" stroke-linejoin="round"/><path d="M 1226.3 498.6 C 1241.6 490.3 1248.5 476.5 1243 462.6 C 1237.4 451.6 1219.4 448.8 1208.3 455.7 C 1198.6 462.6 1198.6 473.7 1205.6 484.8" fill="none" stroke="#0b6c62" stroke-width="16.5" stroke-linecap="round" stroke-linejoin="round"/><path d="M 1226.3 498.6 C 1241.6 490.3 1248.5 476.5 1243 462.6 C 1237.4 451.6 1219.4 448.8 1208.3 455.7 C 1198.6 462.6 1198.6 473.7 1205.6 484.8" fill="none" stroke="#0f8072" stroke-width="14.8" stroke-linecap="round" stroke-linejoin="round"/><path d="M 1226.3 498.6 C 1241.6 490.3 1248.5 476.5 1243 462.6 C 1237.4 451.6 1219.4 448.8 1208.3 455.7 C 1198.6 462.6 1198.6 473.7 1205.6 484.8" fill="none" stroke="#12907f" stroke-width="13.2" stroke-linecap="round" stroke-linejoin="round"/><path d="M 1226.3 498.6 C 1241.6 490.3 1248.5 476.5 1243 462.6 C 1237.4 451.6 1219.4 448.8 1208.3 455.7 C 1198.6 462.6 1198.6 473.7 1205.6 484.8" fill="none" stroke="#169a88" stroke-width="10.9" stroke-linecap="round" stroke-linejoin="round"/><path d="M 1226.3 498.6 C 1241.6 490.3 1248.5 476.5 1243 462.6 C 1237.4 451.6 1219.4 448.8 1208.3 455.7 C 1198.6 462.6 1198.6 473.7 1205.6 484.8" fill="none" stroke="#1aa391" stroke-width="8.2" stroke-linecap="round" stroke-linejoin="round"/><path d="M 1226.3 498.6 C 1241.6 490.3 1248.5 476.5 1243 462.6 C 1237.4 451.6 1219.4 448.8 1208.3 455.7 C 1198.6 462.6 1198.6 473.7 1205.6 484.8" fill="none" stroke="#28a998" stroke-width="5" stroke-linecap="round" stroke-linejoin="round"/><path d="M 1151.6 471.6 C 1134.9 469.6 1121.8 482 1125.2 498.6 C 1129.4 515.3 1151.6 519.4 1172.3 516.6 C 1193.1 513.9 1213.9 507 1227.7 498" fill="none" stroke="#0b6c62" stroke-width="16.5" stroke-linecap="round" stroke-linejoin="round"/><path d="M 1151.6 471.6 C 1134.9 469.6 1121.8 482 1125.2 498.6 C 1129.4 515.3 1151.6 519.4 1172.3 516.6 C 1193.1 513.9 1213.9 507 1227.7 498" fill="none" stroke="#0f8072" stroke-width="14.8" stroke-linecap="round" stroke-linejoin="round"/><path d="M 1151.6 471.6 C 1134.9 469.6 1121.8 482 1125.2 498.6 C 1129.4 515.3 1151.6 519.4 1172.3 516.6 C 1193.1 513.9 1213.9 507 1227.7 498" fill="none" stroke="#12907f" stroke-width="13.2" stroke-linecap="round" stroke-linejoin="round"/><path d="M 1151.6 471.6 C 1134.9 469.6 1121.8 482 1125.2 498.6 C 1129.4 515.3 1151.6 519.4 1172.3 516.6 C 1193.1 513.9 1213.9 507 1227.7 498" fill="none" stroke="#169a88" stroke-width="10.9" stroke-linecap="round" stroke-linejoin="round"/><path d="M 1151.6 471.6 C 1134.9 469.6 1121.8 482 1125.2 498.6 C 1129.4 515.3 1151.6 519.4 1172.3 516.6 C 1193.1 513.9 1213.9 507 1227.7 498" fill="none" stroke="#1aa391" stroke-width="8.2" stroke-linecap="round" stroke-linejoin="round"/><path d="M 1151.6 471.6 C 1134.9 469.6 1121.8 482 1125.2 498.6 C 1129.4 515.3 1151.6 519.4 1172.3 516.6 C 1193.1 513.9 1213.9 507 1227.7 498" fill="none" stroke="#28a998" stroke-width="5" stroke-linecap="round" stroke-linejoin="round"/><path d="M 1170.9 425.5 C 1155.7 422.7 1139.8 428 1142.5 444.6 C 1145.3 457.1 1187.6 473.7 1215.3 487.6 C 1234.7 497.3 1248.5 507 1243.7 519.4 C 1240.2 527.7 1223.6 528.4 1209.7 522.9" fill="none" stroke="#0b6c62" stroke-width="16.5" stroke-linecap="round" stroke-linejoin="round"/><path d="M 1170.9 425.5 C 1155.7 422.7 1139.8 428 1142.5 444.6 C 1145.3 457.1 1187.6 473.7 1215.3 487.6 C 1234.7 497.3 1248.5 507 1243.7 519.4 C 1240.2 527.7 1223.6 528.4 1209.7 522.9" fill="none" stroke="#0f8072" stroke-width="14.8" stroke-linecap="round" stroke-linejoin="round"/><path d="M 1170.9 425.5 C 1155.7 422.7 1139.8 428 1142.5 444.6 C 1145.3 457.1 1187.6 473.7 1215.3 487.6 C 1234.7 497.3 1248.5 507 1243.7 519.4 C 1240.2 527.7 1223.6 528.4 1209.7 522.9" fill="none" stroke="#12907f" stroke-width="13.2" stroke-linecap="round" stroke-linejoin="round"/><path d="M 1170.9 425.5 C 1155.7 422.7 1139.8 428 1142.5 444.6 C 1145.3 457.1 1187.6 473.7 1215.3 487.6 C 1234.7 497.3 1248.5 507 1243.7 519.4 C 1240.2 527.7 1223.6 528.4 1209.7 522.9" fill="none" stroke="#169a88" stroke-width="10.9" stroke-linecap="round" stroke-linejoin="round"/><path d="M 1170.9 425.5 C 1155.7 422.7 1139.8 428 1142.5 444.6 C 1145.3 457.1 1187.6 473.7 1215.3 487.6 C 1234.7 497.3 1248.5 507 1243.7 519.4 C 1240.2 527.7 1223.6 528.4 1209.7 522.9" fill="none" stroke="#1aa391" stroke-width="8.2" stroke-linecap="round" stroke-linejoin="round"/><path d="M 1170.9 425.5 C 1155.7 422.7 1139.8 428 1142.5 444.6 C 1145.3 457.1 1187.6 473.7 1215.3 487.6 C 1234.7 497.3 1248.5 507 1243.7 519.4 C 1240.2 527.7 1223.6 528.4 1209.7 522.9" fill="none" stroke="#28a998" stroke-width="5" stroke-linecap="round" stroke-linejoin="round"/></g><g transform="translate(601.7 200.1) scale(0.6)"><path d="M741 411 C715 408 700 420 700 441 C700 462 712 477 732 486" fill="none" stroke="#5e3592" stroke-width="30" stroke-linecap="round" stroke-linejoin="round"/><path d="M741 411 C715 408 700 420 700 441 C700 462 712 477 732 486" fill="none" stroke="#6d43a0" stroke-width="27" stroke-linecap="round" stroke-linejoin="round"/><path d="M741 411 C715 408 700 420 700 441 C700 462 712 477 732 486" fill="none" stroke="#7a4eab" stroke-width="24" stroke-linecap="round" stroke-linejoin="round"/><path d="M741 411 C715 408 700 420 700 441 C700 462 712 477 732 486" fill="none" stroke="#8258b2" stroke-width="19.8" stroke-linecap="round" stroke-linejoin="round"/><path d="M741 411 C715 408 700 420 700 441 C700 462 712 477 732 486" fill="none" stroke="#8a62ba" stroke-width="15" stroke-linecap="round" stroke-linejoin="round"/><path d="M741 411 C715 408 700 420 700 441 C700 462 712 477 732 486" fill="none" stroke="#916bbe" stroke-width="9" stroke-linecap="round" stroke-linejoin="round"/><path d="M762 413 C783 412 801 418 816 429" fill="none" stroke="#5e3592" stroke-width="29" stroke-linecap="round" stroke-linejoin="round"/><path d="M762 413 C783 412 801 418 816 429" fill="none" stroke="#6d43a0" stroke-width="26.1" stroke-linecap="round" stroke-linejoin="round"/><path d="M762 413 C783 412 801 418 816 429" fill="none" stroke="#7a4eab" stroke-width="23.2" stroke-linecap="round" stroke-linejoin="round"/><path d="M762 413 C783 412 801 418 816 429" fill="none" stroke="#8258b2" stroke-width="19.1" stroke-linecap="round" stroke-linejoin="round"/><path d="M762 413 C783 412 801 418 816 429" fill="none" stroke="#8a62ba" stroke-width="14.5" stroke-linecap="round" stroke-linejoin="round"/><path d="M762 413 C783 412 801 418 816 429" fill="none" stroke="#916bbe" stroke-width="8.7" stroke-linecap="round" stroke-linejoin="round"/><path d="M745 486 C726 483 715 495 715 511 C715 527 727 535 745 534" fill="none" stroke="#5e3592" stroke-width="30" stroke-linecap="round" stroke-linejoin="round"/><path d="M745 486 C726 483 715 495 715 511 C715 527 727 535 745 534" fill="none" stroke="#6d43a0" stroke-width="27" stroke-linecap="round" stroke-linejoin="round"/><path d="M745 486 C726 483 715 495 715 511 C715 527 727 535 745 534" fill="none" stroke="#7a4eab" stroke-width="24" stroke-linecap="round" stroke-linejoin="round"/><path d="M745 486 C726 483 715 495 715 511 C715 527 727 535 745 534" fill="none" stroke="#8258b2" stroke-width="19.8" stroke-linecap="round" stroke-linejoin="round"/><path d="M745 486 C726 483 715 495 715 511 C715 527 727 535 745 534" fill="none" stroke="#8a62ba" stroke-width="15" stroke-linecap="round" stroke-linejoin="round"/><path d="M745 486 C726 483 715 495 715 511 C715 527 727 535 745 534" fill="none" stroke="#916bbe" stroke-width="9" stroke-linecap="round" stroke-linejoin="round"/><path d="M852 548 C845 538 830 535 818 542 C808 549 804 560 799 573 C794 586 787 597 772 599" fill="none" stroke="#3a1f62" stroke-width="30" stroke-linecap="round" stroke-linejoin="round"/><path d="M852 548 C845 538 830 535 818 542 C808 549 804 560 799 573 C794 586 787 597 772 599" fill="none" stroke="#3f2269" stroke-width="27" stroke-linecap="round" stroke-linejoin="round"/><path d="M852 548 C845 538 830 535 818 542 C808 549 804 560 799 573 C794 586 787 597 772 599" fill="none" stroke="#43256e" stroke-width="24" stroke-linecap="round" stroke-linejoin="round"/><path d="M852 548 C845 538 830 535 818 542 C808 549 804 560 799 573 C794 586 787 597 772 599" fill="none" stroke="#43256e" stroke-width="19.8" stroke-linecap="round" stroke-linejoin="round"/><path d="M852 548 C845 538 830 535 818 542 C808 549 804 560 799 573 C794 586 787 597 772 599" fill="none" stroke="#43256e" stroke-width="15" stroke-linecap="round" stroke-linejoin="round"/><path d="M852 548 C845 538 830 535 818 542 C808 549 804 560 799 573 C794 586 787 597 772 599" fill="none" stroke="#4e3277" stroke-width="9" stroke-linecap="round" stroke-linejoin="round"/><path d="M766 384 C805 381 838 388 848 420 C858 452 853 490 831 506 C816 516 795 515 775 515" fill="none" stroke="#5e3592" stroke-width="30" stroke-linecap="round" stroke-linejoin="round"/><path d="M766 384 C805 381 838 388 848 420 C858 452 853 490 831 506 C816 516 795 515 775 515" fill="none" stroke="#6d43a0" stroke-width="27" stroke-linecap="round" stroke-linejoin="round"/><path d="M766 384 C805 381 838 388 848 420 C858 452 853 490 831 506 C816 516 795 515 775 515" fill="none" stroke="#7a4eab" stroke-width="24" stroke-linecap="round" stroke-linejoin="round"/><path d="M766 384 C805 381 838 388 848 420 C858 452 853 490 831 506 C816 516 795 515 775 515" fill="none" stroke="#8258b2" stroke-width="19.8" stroke-linecap="round" stroke-linejoin="round"/><path d="M766 384 C805 381 838 388 848 420 C858 452 853 490 831 506 C816 516 795 515 775 515" fill="none" stroke="#8a62ba" stroke-width="15" stroke-linecap="round" stroke-linejoin="round"/><path d="M766 384 C805 381 838 388 848 420 C858 452 853 490 831 506 C816 516 795 515 775 515" fill="none" stroke="#916bbe" stroke-width="9" stroke-linecap="round" stroke-linejoin="round"/><path d="M765 486 L797 486" fill="none" stroke="#5e3592" stroke-width="34" stroke-linecap="butt" stroke-linejoin="round"/><path d="M765 486 L797 486" fill="none" stroke="#6d43a0" stroke-width="30.6" stroke-linecap="butt" stroke-linejoin="round"/><path d="M765 486 L797 486" fill="none" stroke="#7a4eab" stroke-width="27.2" stroke-linecap="butt" stroke-linejoin="round"/><path d="M765 486 L797 486" fill="none" stroke="#8258b2" stroke-width="22.4" stroke-linecap="butt" stroke-linejoin="round"/><path d="M765 486 L797 486" fill="none" stroke="#8a62ba" stroke-width="17" stroke-linecap="butt" stroke-linejoin="round"/><path d="M765 486 L797 486" fill="none" stroke="#916bbe" stroke-width="10.2" stroke-linecap="butt" stroke-linejoin="round"/><ellipse cx="797" cy="486" rx="11" ry="17.5" fill="#b59cd6" stroke="#5e3592" stroke-width="1.2"/><ellipse cx="798" cy="486" rx="6" ry="11" fill="#a085c8"/><path d="M765 548 C785 548 800 559 811 570 C821 580 834 584 845 581 C857 577 859 560 852 548" fill="none" stroke="#5e3592" stroke-width="30" stroke-linecap="round" stroke-linejoin="round"/><path d="M765 548 C785 548 800 559 811 570 C821 580 834 584 845 581 C857 577 859 560 852 548" fill="none" stroke="#6d43a0" stroke-width="27" stroke-linecap="round" stroke-linejoin="round"/><path d="M765 548 C785 548 800 559 811 570 C821 580 834 584 845 581 C857 577 859 560 852 548" fill="none" stroke="#7a4eab" stroke-width="24" stroke-linecap="round" stroke-linejoin="round"/><path d="M765 548 C785 548 800 559 811 570 C821 580 834 584 845 581 C857 577 859 560 852 548" fill="none" stroke="#8258b2" stroke-width="19.8" stroke-linecap="round" stroke-linejoin="round"/><path d="M765 548 C785 548 800 559 811 570 C821 580 834 584 845 581 C857 577 859 560 852 548" fill="none" stroke="#8a62ba" stroke-width="15" stroke-linecap="round" stroke-linejoin="round"/><path d="M765 548 C785 548 800 559 811 570 C821 580 834 584 845 581 C857 577 859 560 852 548" fill="none" stroke="#916bbe" stroke-width="9" stroke-linecap="round" stroke-linejoin="round"/><path d="M735.5 388 A18.5 19 0 0 1 754 369 L772.5 369 L772.5 596 A18.5 18 0 0 1 735.5 596 Z" fill="url(#cylP)" stroke="#5e3592" stroke-width="1.3"/></g><g transform="translate(713.9 310.6) scale(0.6)"><path d="M741 411 C715 408 700 420 700 441 C700 462 712 477 732 486" fill="none" stroke="#1e6fb8" stroke-width="30" stroke-linecap="round" stroke-linejoin="round"/><path d="M741 411 C715 408 700 420 700 441 C700 462 712 477 732 486" fill="none" stroke="#2b84cf" stroke-width="27" stroke-linecap="round" stroke-linejoin="round"/><path d="M741 411 C715 408 700 420 700 441 C700 462 712 477 732 486" fill="none" stroke="#3596e2" stroke-width="24" stroke-linecap="round" stroke-linejoin="round"/><path d="M741 411 C715 408 700 420 700 441 C700 462 712 477 732 486" fill="none" stroke="#3d9ee8" stroke-width="19.8" stroke-linecap="round" stroke-linejoin="round"/><path d="M741 411 C715 408 700 420 700 441 C700 462 712 477 732 486" fill="none" stroke="#45a6ef" stroke-width="15" stroke-linecap="round" stroke-linejoin="round"/><path d="M741 411 C715 408 700 420 700 441 C700 462 712 477 732 486" fill="none" stroke="#50abf0" stroke-width="9" stroke-linecap="round" stroke-linejoin="round"/><path d="M762 413 C783 412 801 418 816 429" fill="none" stroke="#1e6fb8" stroke-width="29" stroke-linecap="round" stroke-linejoin="round"/><path d="M762 413 C783 412 801 418 816 429" fill="none" stroke="#2b84cf" stroke-width="26.1" stroke-linecap="round" stroke-linejoin="round"/><path d="M762 413 C783 412 801 418 816 429" fill="none" stroke="#3596e2" stroke-width="23.2" stroke-linecap="round" stroke-linejoin="round"/><path d="M762 413 C783 412 801 418 816 429" fill="none" stroke="#3d9ee8" stroke-width="19.1" stroke-linecap="round" stroke-linejoin="round"/><path d="M762 413 C783 412 801 418 816 429" fill="none" stroke="#45a6ef" stroke-width="14.5" stroke-linecap="round" stroke-linejoin="round"/><path d="M762 413 C783 412 801 418 816 429" fill="none" stroke="#50abf0" stroke-width="8.7" stroke-linecap="round" stroke-linejoin="round"/><path d="M745 486 C726 483 715 495 715 511 C715 527 727 535 745 534" fill="none" stroke="#1e6fb8" stroke-width="30" stroke-linecap="round" stroke-linejoin="round"/><path d="M745 486 C726 483 715 495 715 511 C715 527 727 535 745 534" fill="none" stroke="#2b84cf" stroke-width="27" stroke-linecap="round" stroke-linejoin="round"/><path d="M745 486 C726 483 715 495 715 511 C715 527 727 535 745 534" fill="none" stroke="#3596e2" stroke-width="24" stroke-linecap="round" stroke-linejoin="round"/><path d="M745 486 C726 483 715 495 715 511 C715 527 727 535 745 534" fill="none" stroke="#3d9ee8" stroke-width="19.8" stroke-linecap="round" stroke-linejoin="round"/><path d="M745 486 C726 483 715 495 715 511 C715 527 727 535 745 534" fill="none" stroke="#45a6ef" stroke-width="15" stroke-linecap="round" stroke-linejoin="round"/><path d="M745 486 C726 483 715 495 715 511 C715 527 727 535 745 534" fill="none" stroke="#50abf0" stroke-width="9" stroke-linecap="round" stroke-linejoin="round"/><path d="M852 548 C845 538 830 535 818 542 C808 549 804 560 799 573 C794 586 787 597 772 599" fill="none" stroke="#124e86" stroke-width="30" stroke-linecap="round" stroke-linejoin="round"/><path d="M852 548 C845 538 830 535 818 542 C808 549 804 560 799 573 C794 586 787 597 772 599" fill="none" stroke="#155892" stroke-width="27" stroke-linecap="round" stroke-linejoin="round"/><path d="M852 548 C845 538 830 535 818 542 C808 549 804 560 799 573 C794 586 787 597 772 599" fill="none" stroke="#17609c" stroke-width="24" stroke-linecap="round" stroke-linejoin="round"/><path d="M852 548 C845 538 830 535 818 542 C808 549 804 560 799 573 C794 586 787 597 772 599" fill="none" stroke="#17609c" stroke-width="19.8" stroke-linecap="round" stroke-linejoin="round"/><path d="M852 548 C845 538 830 535 818 542 C808 549 804 560 799 573 C794 586 787 597 772 599" fill="none" stroke="#17609c" stroke-width="15" stroke-linecap="round" stroke-linejoin="round"/><path d="M852 548 C845 538 830 535 818 542 C808 549 804 560 799 573 C794 586 787 597 772 599" fill="none" stroke="#256aa2" stroke-width="9" stroke-linecap="round" stroke-linejoin="round"/><path d="M766 384 C805 381 838 388 848 420 C858 452 853 490 831 506 C816 516 795 515 775 515" fill="none" stroke="#1e6fb8" stroke-width="30" stroke-linecap="round" stroke-linejoin="round"/><path d="M766 384 C805 381 838 388 848 420 C858 452 853 490 831 506 C816 516 795 515 775 515" fill="none" stroke="#2b84cf" stroke-width="27" stroke-linecap="round" stroke-linejoin="round"/><path d="M766 384 C805 381 838 388 848 420 C858 452 853 490 831 506 C816 516 795 515 775 515" fill="none" stroke="#3596e2" stroke-width="24" stroke-linecap="round" stroke-linejoin="round"/><path d="M766 384 C805 381 838 388 848 420 C858 452 853 490 831 506 C816 516 795 515 775 515" fill="none" stroke="#3d9ee8" stroke-width="19.8" stroke-linecap="round" stroke-linejoin="round"/><path d="M766 384 C805 381 838 388 848 420 C858 452 853 490 831 506 C816 516 795 515 775 515" fill="none" stroke="#45a6ef" stroke-width="15" stroke-linecap="round" stroke-linejoin="round"/><path d="M766 384 C805 381 838 388 848 420 C858 452 853 490 831 506 C816 516 795 515 775 515" fill="none" stroke="#50abf0" stroke-width="9" stroke-linecap="round" stroke-linejoin="round"/><path d="M765 486 L797 486" fill="none" stroke="#1e6fb8" stroke-width="34" stroke-linecap="butt" stroke-linejoin="round"/><path d="M765 486 L797 486" fill="none" stroke="#2b84cf" stroke-width="30.6" stroke-linecap="butt" stroke-linejoin="round"/><path d="M765 486 L797 486" fill="none" stroke="#3596e2" stroke-width="27.2" stroke-linecap="butt" stroke-linejoin="round"/><path d="M765 486 L797 486" fill="none" stroke="#3d9ee8" stroke-width="22.4" stroke-linecap="butt" stroke-linejoin="round"/><path d="M765 486 L797 486" fill="none" stroke="#45a6ef" stroke-width="17" stroke-linecap="butt" stroke-linejoin="round"/><path d="M765 486 L797 486" fill="none" stroke="#50abf0" stroke-width="10.2" stroke-linecap="butt" stroke-linejoin="round"/><ellipse cx="797" cy="486" rx="11" ry="17.5" fill="#a8c4e6" stroke="#1e6fb8" stroke-width="1.2"/><ellipse cx="798" cy="486" rx="6" ry="11" fill="#90b0d8"/><path d="M765 548 C785 548 800 559 811 570 C821 580 834 584 845 581 C857 577 859 560 852 548" fill="none" stroke="#1e6fb8" stroke-width="30" stroke-linecap="round" stroke-linejoin="round"/><path d="M765 548 C785 548 800 559 811 570 C821 580 834 584 845 581 C857 577 859 560 852 548" fill="none" stroke="#2b84cf" stroke-width="27" stroke-linecap="round" stroke-linejoin="round"/><path d="M765 548 C785 548 800 559 811 570 C821 580 834 584 845 581 C857 577 859 560 852 548" fill="none" stroke="#3596e2" stroke-width="24" stroke-linecap="round" stroke-linejoin="round"/><path d="M765 548 C785 548 800 559 811 570 C821 580 834 584 845 581 C857 577 859 560 852 548" fill="none" stroke="#3d9ee8" stroke-width="19.8" stroke-linecap="round" stroke-linejoin="round"/><path d="M765 548 C785 548 800 559 811 570 C821 580 834 584 845 581 C857 577 859 560 852 548" fill="none" stroke="#45a6ef" stroke-width="15" stroke-linecap="round" stroke-linejoin="round"/><path d="M765 548 C785 548 800 559 811 570 C821 580 834 584 845 581 C857 577 859 560 852 548" fill="none" stroke="#50abf0" stroke-width="9" stroke-linecap="round" stroke-linejoin="round"/><path d="M735.5 388 A18.5 19 0 0 1 754 369 L772.5 369 L772.5 596 A18.5 18 0 0 1 735.5 596 Z" fill="url(#cylB)" stroke="#1e6fb8" stroke-width="1.3"/></g><g stroke="#1b1a1a" stroke-width="1.8" fill="none"><line x1="762.9" y1="333.5" x2="773.3" y2="368.4"/><polyline points="1078.5,421.5 1090.2,349.2 1160.7,540"/><line x1="950.7" y1="607.2" x2="1071.5" y2="496.9"/><polyline points="1053.1,652 1053.1,727.7 1137.7,516.6"/></g><g font-family='"Liberation Sans", sans-serif' fill="#231f20"><text x="449.2" y="140.8" font-weight="bold" font-size="37.5" textLength="179.8" lengthAdjust="spacingAndGlyphs">Secondary</text><text x="459.2" y="179.7" font-weight="bold" font-size="37.5" textLength="158.8" lengthAdjust="spacingAndGlyphs">Structure</text><text x="520.1" y="218.5" font-weight="bold" font-size="37.5" textLength="98.9" lengthAdjust="spacingAndGlyphs">Helix)</text><text x="460" y="218.5" font-weight="bold" font-size="37.5" textLength="11" lengthAdjust="spacingAndGlyphs">(</text><text x="708" y="189" font-weight="bold" font-size="37.5" textLength="133" lengthAdjust="spacingAndGlyphs">Tertiary</text><text x="695.6" y="228" font-weight="bold" font-size="37.5" textLength="159.4" lengthAdjust="spacingAndGlyphs">Structure</text><text x="1022.4" y="189" font-weight="bold" font-size="37.5" textLength="195.6" lengthAdjust="spacingAndGlyphs">Quaternary</text><text x="1041" y="228" font-weight="bold" font-size="37.5" textLength="158.4" lengthAdjust="spacingAndGlyphs">Structure</text><text x="1015" y="874.4" font-weight="bold" font-size="37.5" textLength="211.3" lengthAdjust="spacingAndGlyphs">Hemoglobin</text><text x="1042" y="917.7" font-weight="bold" font-size="37.5" textLength="155.2" lengthAdjust="spacingAndGlyphs">Molecule</text><text x="691.6" y="283.5" font-weight="normal" font-size="37" textLength="165.5" lengthAdjust="spacingAndGlyphs" stroke="#231f20" stroke-width="0.55">β – Globin</text><text x="677.8" y="323.4" font-weight="normal" font-size="37" textLength="193.1" lengthAdjust="spacingAndGlyphs" stroke="#231f20" stroke-width="0.55">Polypeptide</text><text x="1037.8" y="283.5" font-weight="normal" font-size="37" textLength="164.3" lengthAdjust="spacingAndGlyphs" stroke="#231f20" stroke-width="0.55">β – Globin</text><text x="1015.2" y="323.4" font-weight="normal" font-size="37" textLength="208.9" lengthAdjust="spacingAndGlyphs" stroke="#231f20" stroke-width="0.55">Polypeptides</text><text x="1077.2" y="765.2" font-weight="normal" font-size="37" textLength="135" lengthAdjust="spacingAndGlyphs" stroke="#231f20" stroke-width="0.55">– Globin</text><text x="1015.4" y="805.7" font-weight="normal" font-size="37" textLength="209.1" lengthAdjust="spacingAndGlyphs" stroke="#231f20" stroke-width="0.55">Polypeptides</text><text x="875.9" y="639.8" font-weight="normal" font-size="37" textLength="93.5" lengthAdjust="spacingAndGlyphs" stroke="#231f20" stroke-width="0.55">Heme</text><text x="872.4" y="680.5" font-weight="normal" font-size="37" textLength="100.4" lengthAdjust="spacingAndGlyphs" stroke="#231f20" stroke-width="0.55">Group</text><text x="311" y="177.8" font-weight="bold" font-size="25" textLength="74" lengthAdjust="spacingAndGlyphs">Amino</text><text x="311" y="205.8" font-weight="bold" font-size="25" textLength="64" lengthAdjust="spacingAndGlyphs">Acid 1</text><text x="311" y="378.5" font-weight="bold" font-size="25" textLength="74" lengthAdjust="spacingAndGlyphs">Amino</text><text x="311" y="406.5" font-weight="bold" font-size="25" textLength="64" lengthAdjust="spacingAndGlyphs">Acid 2</text><text x="311" y="562.3" font-weight="bold" font-size="25" textLength="74" lengthAdjust="spacingAndGlyphs">Amino</text><text x="311" y="590.3" font-weight="bold" font-size="25" textLength="64" lengthAdjust="spacingAndGlyphs">Acid 3</text><text x="311" y="765" font-weight="bold" font-size="25" textLength="74" lengthAdjust="spacingAndGlyphs">Amino</text><text x="311" y="793" font-weight="bold" font-size="25" textLength="63" lengthAdjust="spacingAndGlyphs">Acid 4</text></g><path transform="translate(476.5 194.6) scale(1 1)" d="M30 2 C24 2 21 6 17.5 10.5 C14 15 11 19.5 7 19.5 C3 19.5 0.9 15.5 0.9 10.5 C0.9 5.5 3 1.5 7 1.5 C11 1.5 14 6 17.5 10.5 C21 15 24 19 30 19" fill="none" stroke="#231f20" stroke-width="2.6"/><path transform="translate(1034 741.5) scale(1 1)" d="M30 2 C24 2 21 6 17.5 10.5 C14 15 11 19.5 7 19.5 C3 19.5 0.9 15.5 0.9 10.5 C0.9 5.5 3 1.5 7 1.5 C11 1.5 14 6 17.5 10.5 C21 15 24 19 30 19" fill="none" stroke="#231f20" stroke-width="2.6"/><rect x="0" y="974" width="1300" height="1" fill="#b0dbef"/></svg></body></html>
